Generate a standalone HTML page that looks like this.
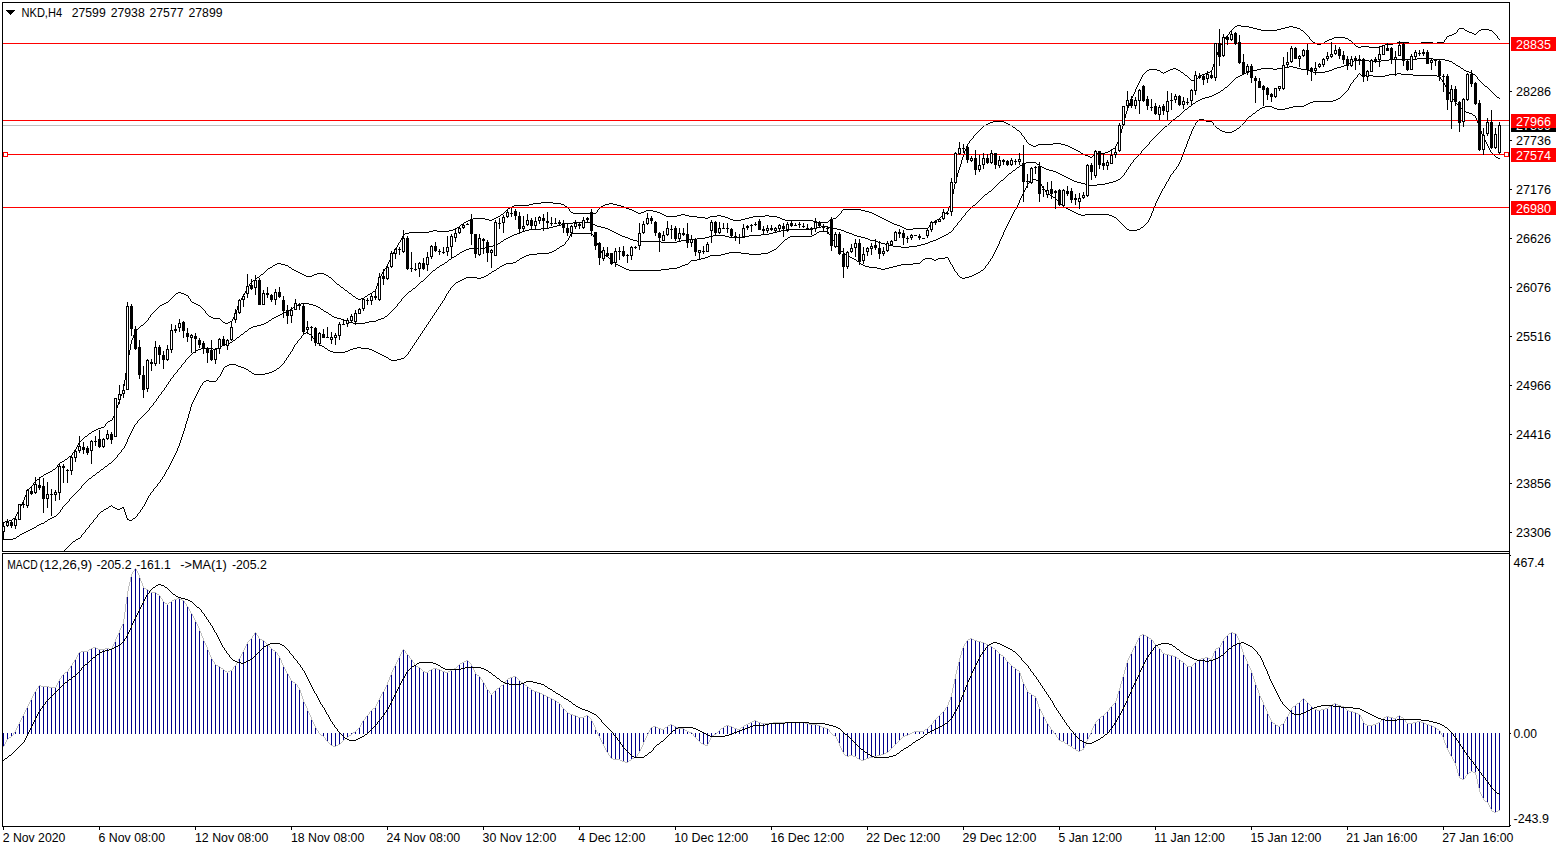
<!DOCTYPE html>
<html lang="en"><head><meta charset="utf-8"><title>NKD,H4</title>
<style>html,body{margin:0;padding:0;background:#fff;}body{width:1566px;height:850px;overflow:hidden;}svg{display:block;}text{font-family:"Liberation Sans", sans-serif;font-size:12.6px;}</style>
</head><body>
<svg width="1566" height="850" viewBox="0 0 1566 850">
<rect x="0" y="0" width="1566" height="850" fill="#fff"/>
<g shape-rendering="crispEdges">
<path d="M345 290.5h2M573 213.5h23M638 213.5h3M660 213.5h2M872 213.5h2M944 213.5h2M464 222.5h2M817 222.5h11M890 222.5h2M932 222.5h2M1031 145.5h2M1036 145.5h2M1065 145.5h3M533 203.5h8M553 203.5h8M609 203.5h4M429 231.5h4M437 231.5h12M1090 157.5h2M1235 26.5h2M1241 26.5h8M1289 26.5h4M1081 153.5h2M1095 153.5h10M1317 44.5h4M1385 44.5h8M166 302.5h2M192 302.5h2M1202 74.5h3M1149 69.5h8M1170 69.5h3M1176 69.5h2M468 220.5h2M489 220.5h3M733 220.5h8M785 220.5h28M829 220.5h2M886 220.5h2M529 204.5h4M561 204.5h3M605 204.5h4M613 204.5h4M634 211.5h2M644 211.5h2M653 211.5h4M865 211.5h4M1074 149.5h2M498 216.5h2M666 216.5h11M689 216.5h8M710 216.5h7M721 216.5h4M753 216.5h12M769 216.5h8M878 216.5h2M1257 29.5h4M1277 29.5h4M1481 29.5h8M257 277.5h2M329 277.5h2M571 212.5h2M636 212.5h2M641 212.5h3M657 212.5h3M869 212.5h3M946 212.5h2M162 304.5h2M196 304.5h2M1356 46.5h2M1361 46.5h8M1380 46.5h2M1332 38.5h2M1345 38.5h3M1205 73.5h3M470 219.5h3M485 219.5h4M492 219.5h2M730 219.5h3M741 219.5h4M782 219.5h3M831 219.5h2M884 219.5h2M937 219.5h2M3 522.5h2M1078 151.5h2M1108 151.5h2M629 209.5h3M843 209.5h18M541 202.5h12M405 233.5h4M664 215.5h2M677 215.5h4M685 215.5h4M717 215.5h4M765 215.5h4M876 215.5h2M101 427.5h3M1147 70.5h2M1157 70.5h3M1168 70.5h2M1178 70.5h2M993 121.5h11M514 205.5h15M603 205.5h2M617 205.5h4M261 274.5h2M302 274.5h2M314 274.5h3M324 274.5h2M294 270.5h2M358 299.5h3M186 295.5h2M990 122.5h3M1004 122.5h2M1053 143.5h8M1315 43.5h2M1321 43.5h3M1393 43.5h4M1409 43.5h12M1433 43.5h4M986 124.5h2M1008 124.5h2M904 228.5h2M913 228.5h15M41 476.5h2M1161 72.5h2M1164 72.5h2M1181 72.5h2M1208 72.5h2M108 421.5h2M473 218.5h12M494 218.5h2M705 218.5h3M728 218.5h2M745 218.5h4M780 218.5h2M833 218.5h3M882 218.5h2M1358 47.5h3M1369 47.5h11M433 230.5h4M449 230.5h4M1334 37.5h11M1249 27.5h4M1285 27.5h4M1293 27.5h4M1325 41.5h2M96 429.5h2M184 294.5h2M368 294.5h2M92 431.5h2M1076 150.5h2M1110 150.5h2M466 221.5h2M813 221.5h4M888 221.5h2M934 221.5h2M1452 34.5h2M1474 34.5h2M496 217.5h2M697 217.5h8M708 217.5h2M725 217.5h3M749 217.5h4M777 217.5h3M880 217.5h2M213 318.5h7M512 206.5h2M565 206.5h2M601 206.5h2M621 206.5h3M353 296.5h2M365 296.5h2M275 264.5h2M281 264.5h4M178 292.5h3M1261 30.5h16M1301 30.5h2M1465 30.5h2M1479 30.5h2M1489 30.5h3M1467 31.5h2M1085 155.5h3M1237 25.5h4M1253 28.5h4M1281 28.5h4M1297 28.5h3M1459 28.5h5M1088 156.5h2M1105 152.5h3M1072 148.5h2M1113 148.5h2M461 224.5h2M894 224.5h3M225 323.5h3M1313 42.5h2M1397 42.5h12M1421 42.5h12M1437 42.5h7M409 232.5h20M223 322.5h2M228 322.5h2M1382 45.5h3M1329 39.5h3M897 225.5h3M356 298.5h2M361 298.5h3M300 273.5h2M317 273.5h7M306 276.5h6M9 520.5h3M292 269.5h2M457 227.5h2M902 227.5h2M341 287.5h2M632 210.5h2M646 210.5h7M861 210.5h4M164 303.5h2M194 303.5h2M1029 144.5h2M1038 144.5h15M1061 144.5h4M85 436.5h2M253 280.5h2M65 459.5h2M337 284.5h2M984 125.5h2M1010 125.5h2M1070 147.5h2M501 214.5h2M662 214.5h2M681 214.5h4M874 214.5h2M1469 32.5h3M53 469.5h2M298 272.5h2M900 226.5h2M1454 33.5h2M1472 33.5h2M373 291.5h2M60 462.5h2M1033 146.5h3M1068 146.5h2M230 321.5h2M273 265.5h2M285 265.5h3M176 293.5h2M181 293.5h3M349 293.5h2M370 293.5h2M508 208.5h2M626 208.5h3M403 234.5h2M1083 154.5h2M988 123.5h2M1006 123.5h2M1449 35.5h3M453 229.5h3M906 229.5h7M110 420.5h2M62 461.5h2M296 271.5h2M209 316.5h2M1017 130.5h2M50 471.5h2M268 268.5h2M1327 40.5h2M1349 40.5h2M141 325.5h2M160 305.5h2M198 305.5h2M211 317.5h2M1013 127.5h2M98 428.5h3M304 275.5h2M312 275.5h2M326 275.5h2M270 267.5h2M289 267.5h2M1185 75.5h2M1200 75.5h2M510 207.5h2M624 207.5h2M89 433.5h2M69 456.5h2M5 521.5h4M1166 71.5h2M1210 71.5h2M48 472.5h2M1173 68.5h3M277 263.5h4M1447 36.5h2M1191 80.5h5M46 473.5h2M892 223.5h2M13 518.5h2M37 479.5h2M94 430.5h2M44 474.5h2M246.5 289v2M36.5 480v1M392.5 254v2M952.5 194v5M130.5 344v6M384.5 269v2M24.5 497v3M1125.5 114v4M1214.5 61v3M1094.5 154v1M969.5 141v2M31.5 486v1M400.5 240v2M947.5 211v1M158.5 307v1M936.5 220v1M841.5 211v2M23.5 500v2M242.5 297v1M125.5 373v7M1025.5 139v1M265.5 271v1M170.5 299v1M135.5 331v2M1124.5 118v3M940.5 217v1M380.5 276v2M1026.5 140v2M1121.5 129v4M1133.5 94v2M333.5 280v1M1222.5 41v2M126.5 367v6M956.5 177v3M396.5 247v2M117.5 405v3M1309.5 37v2M334.5 281v1M238.5 303v3M387.5 264v2M1116.5 144v2M379.5 278v2M1354.5 44v1M113.5 416v2M1446.5 37v2M1183.5 73v1M1136.5 87v2M1120.5 133v4M234.5 315v2M1218.5 49v3M203.5 309v1M964.5 151v3M1355.5 45v1M1233.5 28v1M951.5 199v4M1495.5 34v1M18.5 510v2M237.5 306v4M1160.5 71v1M120.5 396v3M1213.5 64v3M378.5 280v3M1225.5 37v2M344.5 289v1M1217.5 52v3M78.5 443v2M963.5 154v3M22.5 502v2M391.5 256v2M383.5 271v1M150.5 315v2M153.5 312v1M968.5 143v1M828.5 221v1M1212.5 67v3M955.5 180v4M249.5 284v2M1476.5 33v1M74.5 450v2M375.5 289v2M241.5 298v2M979.5 130v1M145.5 322v1M367.5 295v1M34.5 482v1M57.5 465v2M112.5 418v2M340.5 286v1M596.5 212v1M138.5 328v1M403.5 235v1M233.5 317v2M81.5 440v1M245.5 291v2M954.5 184v5M456.5 228v1M291.5 268v1M1028.5 143v1M105.5 424v2M1145.5 72v1M1456.5 32v1M386.5 266v2M1140.5 79v2M1499.5 39v1M188.5 296v2M971.5 139v1M399.5 242v1M1312.5 41v1M172.5 297v1M256.5 278v1M128.5 355v6M1197.5 78v1M942.5 215v1M1127.5 108v3M840.5 213v1M129.5 350v5M1139.5 81v2M1221.5 43v2M260.5 275v1M30.5 487v1M206.5 313v1M88.5 434v1M959.5 167v3M1498.5 38v1M390.5 258v2M1132.5 96v2M1027.5 142v1M983.5 126v1M1304.5 32v1M124.5 380v6M950.5 203v3M974.5 135v1M1123.5 121v4M1135.5 89v3M26.5 492v3M17.5 512v2M1189.5 78v1M1115.5 146v2M33.5 483v2M1143.5 74v1M56.5 467v1M220.5 319v1M336.5 283v1M377.5 283v3M123.5 386v5M191.5 301v1M267.5 269v1M157.5 308v1M1122.5 125v4M221.5 320v1M232.5 319v2M127.5 361v6M77.5 445v2M244.5 293v2M205.5 311v2M264.5 272v1M382.5 272v2M953.5 189v5M21.5 504v2M1497.5 36v2M967.5 144v2M133.5 335v3M1311.5 40v1M335.5 282v1M958.5 170v3M190.5 299v2M1131.5 98v3M500.5 215v1M115.5 411v3M1080.5 152v1M40.5 477v1M140.5 326v1M966.5 146v3M248.5 286v1M504.5 212v1M978.5 131v1M144.5 323v1M957.5 173v4M1300.5 29v1M1184.5 74v1M1303.5 31v1M949.5 206v2M1119.5 137v3M16.5 514v2M28.5 489v1M929.5 225v2M376.5 286v3M152.5 313v1M1478.5 31v1M981.5 128v1M1138.5 83v2M119.5 399v3M189.5 298v1M67.5 458v1M240.5 300v1M569.5 209v2M243.5 295v2M59.5 463v1M122.5 391v3M71.5 455v1M962.5 157v3M204.5 310v1M83.5 438v1M118.5 402v3M87.5 435v1M131.5 340v4M155.5 310v1M961.5 160v4M1227.5 35v1M973.5 136v2M1130.5 101v2M1142.5 75v2M970.5 140v1M1199.5 76v1M941.5 216v1M1180.5 71v1M251.5 282v1M1129.5 103v3M598.5 209v1M20.5 506v2M222.5 321v1M1492.5 31v1M928.5 227v1M1230.5 31v1M395.5 249v1M976.5 133v1M91.5 432v1M1493.5 32v1M1019.5 131v1M114.5 414v2M1137.5 85v2M1458.5 29v1M174.5 295v1M364.5 297v1M506.5 210v1M208.5 315v1M1126.5 111v3M32.5 485v1M960.5 164v3M35.5 481v1M948.5 208v3M159.5 306v1M55.5 468v1M842.5 210v1M266.5 270v1M15.5 516v2M27.5 490v2M134.5 333v2M568.5 208v1M837.5 216v1M207.5 314v1M1141.5 77v2M288.5 266v1M1305.5 33v1M460.5 225v1M352.5 295v1M965.5 149v2M1306.5 34v1M1190.5 79v1M1234.5 27v1M355.5 297v1M980.5 129v1M39.5 478v1M19.5 508v2M567.5 207v1M503.5 213v1M1093.5 155v1M146.5 321v1M121.5 394v2M1351.5 41v1M402.5 236v2M43.5 475v1M1324.5 42v1M1229.5 32v2M200.5 306v1M169.5 300v1M1015.5 128v1M939.5 218v1M931.5 223v1M116.5 408v3M154.5 311v1M1021.5 133v2M398.5 243v2M1022.5 135v1M149.5 317v1M58.5 464v1M236.5 310v3M597.5 210v2M394.5 250v2M73.5 452v1M1445.5 39v1M1112.5 149v1M1457.5 30v2M570.5 211v1M137.5 329v1M972.5 138v1M80.5 441v1M975.5 134v1M104.5 426v1M351.5 294v1M1224.5 39v1M385.5 268v1M1020.5 132v1M1464.5 29v1M173.5 296v1M272.5 266v1M943.5 214v1M1128.5 106v2M600.5 207v1M76.5 447v2M1163.5 73v1M1196.5 79v1M1220.5 45v2M1216.5 55v3M381.5 274v2M1232.5 29v1M836.5 217v1M132.5 338v2M107.5 422v1M64.5 460v1M25.5 495v2M68.5 457v1M1144.5 73v1M1024.5 137v2M1494.5 33v1M459.5 226v1M331.5 278v1M1444.5 40v2M332.5 279v1M1092.5 156v1M839.5 214v1M389.5 260v2M1308.5 36v1M156.5 309v1M255.5 279v1M1118.5 140v2M168.5 301v1M347.5 291v1M1016.5 129v1M930.5 224v1M148.5 318v2M397.5 245v2M202.5 308v1M235.5 313v2M982.5 127v1M72.5 453v2M1215.5 58v3M239.5 301v2M505.5 211v1M401.5 238v2M463.5 223v1M1219.5 47v2M393.5 252v2M171.5 298v1M139.5 327v1M1307.5 35v1M343.5 288v1M259.5 276v1M29.5 488v1M1352.5 42v1M263.5 273v1M201.5 307v1M1353.5 43v1M252.5 281v1M1134.5 92v2M372.5 292v1M328.5 276v1M247.5 287v2M151.5 314v1M339.5 285v1M1477.5 32v1M84.5 437v1M388.5 262v2M599.5 208v1M1117.5 142v2M1023.5 136v1M143.5 324v1M1012.5 126v1M1228.5 34v1M1231.5 30v1M82.5 439v1M136.5 330v1M1188.5 77v1M1146.5 71v1M175.5 294v1M106.5 423v1M1223.5 40v1M1226.5 36v1M52.5 470v1M12.5 519v1M1198.5 77v1M564.5 205v1M1187.5 76v1M1348.5 39v1M250.5 283v1M838.5 215v1M1496.5 35v1M977.5 132v1M1211.5 70v1M75.5 449v1M1310.5 39v1M507.5 209v1M348.5 292v1M79.5 442v1M147.5 320v1" fill="none" stroke="#000" stroke-width="1"/>
<path d="M346 321.5h3M369 321.5h7M541 228.5h8M605 228.5h3M813 228.5h4M830 228.5h7M525 230.5h4M610 230.5h2M781 230.5h8M841 230.5h3M201 348.5h12M216 348.5h2M989 191.5h2M3 539.5h10M1389 59.5h28M1433 59.5h12M501 241.5h2M637 241.5h24M677 241.5h4M876 241.5h2M930 241.5h3M1024 163.5h2M1246 72.5h3M1313 72.5h12M1469 72.5h3M517 233.5h3M616 233.5h2M769 233.5h4M849 233.5h3M1212 95.5h2M510 236.5h2M622 236.5h3M709 236.5h4M725 236.5h4M745 236.5h4M857 236.5h4M942 236.5h2M514 234.5h3M618 234.5h2M761 234.5h8M852 234.5h2M946 234.5h2M633 240.5h4M681 240.5h8M870 240.5h6M933 240.5h3M1089 185.5h8M274 317.5h2M334 317.5h3M661 242.5h16M878 242.5h3M928 242.5h2M508 237.5h2M625 237.5h3M705 237.5h4M729 237.5h16M861 237.5h4M940 237.5h2M280 314.5h2M329 314.5h2M1085 184.5h4M1097 184.5h8M296 305.5h2M313 305.5h3M1177 116.5h2M1081 183.5h4M1105 183.5h4M1200 99.5h2M1253 70.5h4M1308 70.5h2M1329 70.5h3M1464 70.5h2M549 227.5h4M601 227.5h4M817 227.5h4M828 227.5h2M496 244.5h2M885 244.5h4M921 244.5h4M1205 97.5h4M1497 97.5h2M266 322.5h2M349 322.5h4M365 322.5h4M1077 182.5h4M1109 182.5h4M520 232.5h2M614 232.5h2M773 232.5h4M846 232.5h3M949 232.5h2M506 238.5h2M628 238.5h2M697 238.5h8M865 238.5h3M938 238.5h2M1261 68.5h12M1277 68.5h8M1297 68.5h4M1334 68.5h3M1461 68.5h2M1185 109.5h2M529 229.5h12M608 229.5h2M789 229.5h24M837 229.5h4M512 235.5h2M620 235.5h2M713 235.5h12M749 235.5h12M854 235.5h3M944 235.5h2M48 519.5h2M469 248.5h16M282 313.5h2M522 231.5h3M612 231.5h2M777 231.5h4M844 231.5h2M493 245.5h3M889 245.5h4M917 245.5h4M557 225.5h4M595 225.5h2M553 226.5h4M597 226.5h4M821 226.5h7M565 223.5h8M1053 171.5h3M1218 92.5h2M561 224.5h4M593 224.5h2M1026 162.5h10M1249 71.5h4M1310 71.5h3M1325 71.5h4M1466 71.5h3M1013 170.5h2M1049 170.5h4M1344 65.5h2M1456 65.5h2M253 326.5h4M573 222.5h19M230 342.5h2M249 328.5h2M225 344.5h3M1074 181.5h3M1113 181.5h3M433 270.5h2M101 469.5h2M1068 178.5h2M457 254.5h2M278 315.5h2M276 316.5h2M332 316.5h2M385 316.5h2M1209 96.5h3M1056 172.5h2M504 239.5h2M630 239.5h3M689 239.5h8M868 239.5h2M936 239.5h2M1285 67.5h4M1293 67.5h4M1337 67.5h4M1017 167.5h2M1042 167.5h2M1289 66.5h4M1341 66.5h3M1458 66.5h2M498 243.5h2M881 243.5h4M925 243.5h3M264 323.5h2M353 323.5h12M218 347.5h2M34 527.5h2M286 311.5h2M324 311.5h2M290 309.5h2M321 309.5h2M269 320.5h2M344 320.5h2M376 320.5h2M298 304.5h3M309 304.5h4M17 536.5h2M440 265.5h2M1352 61.5h2M1369 61.5h12M1449 61.5h3M464 250.5h2M1244 73.5h2M409 291.5h2M241 334.5h2M1354 60.5h15M1381 60.5h8M1445 60.5h4M1066 177.5h2M198 349.5h3M213 349.5h3M316 306.5h2M1417 58.5h16M45 521.5h2M293 307.5h2M318 307.5h2M1240 75.5h2M301 303.5h8M1009 173.5h2M1058 173.5h2M489 246.5h4M893 246.5h8M909 246.5h8M261 324.5h3M1346 64.5h2M973 205.5h2M1060 174.5h2M341 319.5h3M378 319.5h3M454 256.5h2M1020 165.5h2M20 534.5h2M1257 69.5h4M1273 69.5h4M1301 69.5h7M1332 69.5h2M284 312.5h2M326 312.5h2M109 463.5h2M39 524.5h2M1225 87.5h2M1001 180.5h2M1072 180.5h2M1116 180.5h2M272 318.5h2M337 318.5h4M381 318.5h3M233 340.5h2M1198 100.5h2M1070 179.5h2M1118 179.5h2M93 475.5h2M41 523.5h3M1173 119.5h2M1242 74.5h2M1473 74.5h2M24 532.5h2M222 345.5h3M251 327.5h2M1022 164.5h2M1037 164.5h2M1189 106.5h2M1236 77.5h2M193 352.5h2M288 310.5h2M1040 166.5h2M54 516.5h2M437 267.5h2M1062 175.5h2M1064 176.5h2M1221 90.5h2M1348 63.5h2M1453 63.5h2M485 247.5h4M901 247.5h8M26 531.5h2M257 325.5h4M1485 86.5h2M32 528.5h2M105 466.5h2M462 251.5h2M1196 101.5h2M196 350.5h2M460 252.5h2M1214 94.5h2M22 533.5h2M89 478.5h2M445 262.5h2M1238 76.5h2M413 288.5h2M97 472.5h2M50 518.5h2M421 281.5h2M52 517.5h2M1350 62.5h2M1046 169.5h3M1165 126.5h2M220 346.5h2M442 264.5h2M1216 93.5h2M452 257.5h2M1044 168.5h2M13 538.5h3M1193 103.5h2M985 194.5h2M37 525.5h2M449 259.5h2M1202 98.5h3M466 249.5h3M245 331.5h2M28 530.5h2M30 529.5h2M228 343.5h2M237 337.5h2M191.5 354v1M123.5 448v1M1006.5 176v1M428.5 275v1M58.5 513v1M61.5 509v1M136.5 423v1M81.5 486v2M139.5 419v1M128.5 437v2M1127.5 169v1M56.5 515v1M959.5 221v1M1036.5 163v1M1143.5 149v1M1220.5 91v1M970.5 208v1M112.5 461v1M236.5 338v1M69.5 499v2M127.5 439v3M951.5 231v1M1224.5 88v1M954.5 227v1M1472.5 73v1M163.5 390v1M1158.5 133v1M148.5 410v1M151.5 406v1M175.5 373v1M195.5 351v1M64.5 505v1M447.5 261v1M1490.5 90v1M170.5 379v2M459.5 253v1M1460.5 67v1M1479.5 80v1M1491.5 91v1M962.5 217v1M997.5 184v1M425.5 278v1M397.5 304v2M183.5 363v1M268.5 321v1M44.5 522v1M1138.5 155v1M166.5 385v2M240.5 335v1M412.5 289v1M76.5 492v1M178.5 369v1M1228.5 85v1M244.5 332v1M416.5 286v1M328.5 313v1M405.5 295v1M1123.5 175v1M248.5 329v1M95.5 474v1M1135.5 158v1M84.5 483v1M451.5 258v1M1478.5 79v1M400.5 301v1M99.5 471v1M146.5 412v1M186.5 359v1M131.5 431v2M432.5 271v1M1130.5 164v2M68.5 501v1M143.5 415v1M444.5 263v1M1452.5 62v1M1008.5 174v1M436.5 268v1M60.5 510v2M988.5 192v1M1235.5 78v1M1126.5 170v2M154.5 402v1M992.5 189v1M119.5 453v1M981.5 198v1M320.5 308v1M1169.5 123v1M114.5 459v1M103.5 468v1M965.5 213v2M1477.5 77v2M126.5 442v2M953.5 228v2M107.5 465v1M592.5 223v1M177.5 370v2M1153.5 138v1M1012.5 171v1M1150.5 141v1M36.5 526v1M190.5 355v1M392.5 310v1M122.5 449v1M169.5 381v1M430.5 273v1M999.5 182v1M427.5 276v1M1191.5 105v1M1145.5 147v1M1180.5 114v1M185.5 360v2M1129.5 166v1M420.5 282v1M961.5 218v2M972.5 206v1M71.5 497v1M1230.5 83v1M1492.5 92v1M956.5 225v1M976.5 203v1M235.5 339v1M407.5 293v1M1493.5 93v1M1160.5 131v1M153.5 403v2M1223.5 89v1M162.5 391v1M1137.5 156v1M165.5 387v1M66.5 503v1M239.5 336v1M86.5 481v1M174.5 374v1M125.5 444v2M1195.5 102v1M500.5 242v1M1003.5 179v1M964.5 215v1M63.5 506v1M138.5 420v1M996.5 185v1M117.5 455v2M387.5 315v1M1140.5 153v1M78.5 490v1M156.5 399v2M180.5 367v1M1480.5 81v1M983.5 196v1M168.5 382v2M411.5 290v1M47.5 520v1M1481.5 82v1M987.5 193v1M415.5 287v1M1157.5 134v1M1234.5 79v1M1125.5 172v1M967.5 211v1M132.5 429v2M188.5 357v1M399.5 302v1M1132.5 162v1M402.5 298v1M1155.5 136v1M145.5 413v1M1120.5 178v1M16.5 537v1M394.5 308v1M418.5 284v1M994.5 187v1M1171.5 121v1M121.5 450v2M991.5 190v1M391.5 311v1M1175.5 118v1M1164.5 127v1M116.5 457v1M1179.5 115v1M73.5 495v1M978.5 201v1M295.5 306v1M1162.5 129v1M164.5 388v2M948.5 233v1M971.5 207v1M1152.5 139v1M1229.5 84v1M192.5 353v1M456.5 255v1M124.5 446v2M448.5 260v1M429.5 274v1M1147.5 145v1M1182.5 112v1M62.5 507v2M140.5 418v1M85.5 482v1M1128.5 167v2M57.5 514v1M135.5 424v1M80.5 488v1M1232.5 81v1M1487.5 87v1M955.5 226v1M406.5 294v1M1139.5 154v1M1159.5 132v1M88.5 479v1M152.5 405v1M176.5 372v1M179.5 368v1M111.5 462v1M65.5 504v1M92.5 476v1M1016.5 168v1M1005.5 177v1M159.5 395v1M147.5 411v1M1494.5 94v1M171.5 378v1M998.5 183v1M966.5 212v1M187.5 358v1M389.5 313v1M958.5 222v1M424.5 279v1M1039.5 165v1M1142.5 150v1M77.5 491v1M182.5 364v1M417.5 285v1M1475.5 75v1M969.5 209v1M96.5 473v1M1170.5 122v1M1227.5 86v1M243.5 333v1M401.5 299v2M100.5 470v1M404.5 296v1M1482.5 83v1M1122.5 176v1M1131.5 163v1M115.5 458v1M1134.5 159v1M1463.5 69v1M1154.5 137v1M83.5 484v1M130.5 433v2M396.5 306v1M431.5 272v1M1184.5 110v1M155.5 401v1M158.5 396v2M435.5 269v1M993.5 188v1M1188.5 107v1M393.5 309v1M167.5 384v1M331.5 315v1M1146.5 146v1M1181.5 113v1M75.5 493v1M150.5 407v1M118.5 454v1M980.5 199v1M72.5 496v1M134.5 425v2M957.5 223v2M1141.5 151v2M232.5 341v1M1231.5 82v1M161.5 392v2M173.5 375v2M1149.5 142v2M142.5 416v1M87.5 480v1M1000.5 181v1M1192.5 104v1M271.5 319v1M1489.5 89v1M189.5 356v1M1004.5 178v1M59.5 512v1M137.5 421v2M247.5 330v1M384.5 317v1M1168.5 124v1M181.5 365v2M1496.5 96v1M419.5 283v1M388.5 314v1M977.5 202v1M1455.5 64v1M408.5 292v1M1499.5 98v1M1161.5 130v1M113.5 460v1M423.5 280v1M1488.5 88v1M67.5 502v1M70.5 498v1M952.5 230v1M1007.5 175v1M975.5 204v1M91.5 477v1M149.5 408v2M1133.5 160v2M1011.5 172v1M439.5 266v1M968.5 210v1M129.5 435v2M323.5 310v1M960.5 220v1M963.5 216v1M426.5 277v1M1144.5 148v1M79.5 489v1M82.5 485v1M184.5 362v1M995.5 186v1M1484.5 85v1M395.5 307v1M984.5 195v1M1172.5 120v1M133.5 427v2M1015.5 169v1M1124.5 173v2M403.5 297v1M1136.5 157v1M1156.5 135v1M1121.5 177v1M1233.5 80v1M1019.5 166v1M1495.5 95v1M503.5 240v1M398.5 303v1M144.5 414v1M1183.5 111v1M157.5 398v1M160.5 394v1M1187.5 108v1M1176.5 117v1M172.5 377v1M1148.5 144v1M292.5 308v1M120.5 452v1M982.5 197v1M1476.5 76v1M74.5 494v1M390.5 312v1M979.5 200v1M1163.5 128v1M1483.5 84v1M104.5 467v1M1167.5 125v1M108.5 464v1M19.5 535v1M1151.5 140v1M141.5 417v1" fill="none" stroke="#000" stroke-width="1"/>
<path d="M857 261.5h2M484 276.5h2M969 276.5h3M622 267.5h2M677 267.5h3M869 267.5h8M889 267.5h4M1081 215.5h4M1109 215.5h3M1066 208.5h2M819 231.5h9M513 262.5h3M613 262.5h2M520 258.5h2M701 258.5h4M852 258.5h2M925 258.5h7M938 258.5h7M1064 207.5h2M1225 132.5h7M1253 113.5h2M1469 113.5h3M494 270.5h2M629 270.5h32M981 270.5h2M1363 76.5h2M1373 76.5h12M1437 76.5h3M1313 101.5h20M1260 108.5h2M1274 108.5h3M1285 108.5h4M1078 214.5h3M1085 214.5h24M571 233.5h21M1361 75.5h2M1365 75.5h8M1385 75.5h4M1413 75.5h24M790 236.5h22M1306 104.5h2M127 519.5h2M269 372.5h3M549 252.5h3M729 252.5h12M768 252.5h2M1038 181.5h2M497 268.5h2M624 268.5h2M669 268.5h8M877 268.5h4M885 268.5h4M1068 209.5h2M249 371.5h2M272 371.5h2M1050 195.5h2M380 354.5h2M325 348.5h2M353 348.5h4M361 348.5h8M241 367.5h3M504 264.5h2M616 264.5h2M685 264.5h3M861 264.5h2M901 264.5h12M1265 106.5h7M1293 106.5h11M1277 109.5h8M204 381.5h2M209 381.5h7M1114 217.5h2M227 365.5h2M236 365.5h2M466 277.5h11M481 277.5h3M960 277.5h2M965 277.5h4M1199 119.5h5M697 259.5h4M854 259.5h2M923 259.5h2M932 259.5h2M936 259.5h2M774 249.5h2M554 250.5h2M772 250.5h2M254 374.5h11M974 274.5h2M1333 100.5h3M502 265.5h2M618 265.5h2M682 265.5h3M863 265.5h2M897 265.5h4M350 349.5h3M369 349.5h3M225 366.5h2M238 366.5h3M526 255.5h3M604 255.5h2M710 255.5h11M522 257.5h2M705 257.5h3M850 257.5h2M945 257.5h3M330 351.5h3M345 351.5h3M374 351.5h2M306 332.5h2M560 246.5h2M524 256.5h2M606 256.5h2M708 256.5h2M848 256.5h2M382 355.5h2M304 333.5h2M129 520.5h3M1070 210.5h2M517 260.5h2M691 260.5h6M934 260.5h2M1466 112.5h3M113 507.5h2M122 507.5h2M401 358.5h3M1112 216.5h2M529 254.5h8M721 254.5h4M749 254.5h12M845 254.5h2M626 269.5h3M661 269.5h8M881 269.5h4M557 248.5h2M76 539.5h2M320 345.5h2M333 352.5h12M376 352.5h2M73 541.5h2M537 253.5h12M725 253.5h4M741 253.5h8M761 253.5h7M506 263.5h7M913 263.5h7M1036 180.5h2M552 251.5h2M770 251.5h2M841 251.5h2M274 370.5h2M785 239.5h2M1308 103.5h2M357 347.5h4M1304 105.5h2M1141 227.5h2M486 275.5h2M972 275.5h2M460 280.5h2M1389 74.5h8M1401 74.5h12M1129 230.5h8M562 245.5h2M462 279.5h2M328 350.5h2M348 350.5h2M372 350.5h2M109 506.5h2M206 380.5h3M106 508.5h2M115 508.5h2M120 508.5h2M814 234.5h2M1206 121.5h6M1310 102.5h3M817 232.5h2M1498 158.5h2M1031 179.5h5M252 373.5h2M265 373.5h4M389 359.5h2M397 359.5h4M1397 73.5h4M1222 131.5h3M1232 131.5h2M812 235.5h2M1217 128.5h2M1237 128.5h2M788 237.5h2M322 346.5h2M133 518.5h2M309 334.5h2M378 353.5h2M1257 110.5h2M384 356.5h2M1464 111.5h2M458 281.5h2M489 273.5h2M976 273.5h2M500 266.5h2M620 266.5h2M680 266.5h2M865 266.5h4M893 266.5h4M246 369.5h2M391 360.5h6M1072 211.5h2M978 272.5h2M464 278.5h2M477 278.5h4M962 278.5h3M492 271.5h2M1262 107.5h3M1272 107.5h2M1289 107.5h4M1127 229.5h2M1137 229.5h3M1076 213.5h2M1074 212.5h2M1204 120.5h2M1496 157.5h2M244 368.5h2M277 368.5h2M386 357.5h2M317 343.5h2M1053 197.5h2M229 364.5h7M456 282.5h2M104 509.5h2M117 509.5h3M1473 115.5h2M1220 130.5h2M1234 130.5h2M1249 116.5h2M1338 98.5h2M101 511.5h2M1048 194.5h2M78 538.5h2M1336 99.5h2M153.5 489v2M949.5 260v2M957.5 273v2M88.5 527v1M420.5 334v2M221.5 372v2M165.5 472v2M615.5 263v1M1185.5 147v2M189.5 411v3M1239.5 127v1M1197.5 121v1M950.5 262v2M958.5 275v1M1016.5 207v2M125.5 512v3M1040.5 182v2M1346.5 91v1M995.5 250v2M289.5 354v1M83.5 533v1M1358.5 74v1M1181.5 157v3M1029.5 181v2M427.5 324v1M169.5 465v2M779.5 245v1M1160.5 193v2M181.5 437v3M161.5 479v1M1027.5 184v2M96.5 517v1M832.5 238v2M99.5 513v1M1184.5 149v3M1000.5 239v2M185.5 424v4M980.5 271v1M197.5 392v2M1486.5 142v2M1012.5 214v2M447.5 293v1M132.5 519v1M1489.5 148v2M327.5 349v1M1153.5 208v3M177.5 448v3M991.5 258v1M1152.5 211v2M411.5 348v1M298.5 340v1M836.5 244v2M1481.5 131v3M91.5 523v1M94.5 519v1M168.5 467v2M145.5 502v2M1212.5 122v1M1023.5 192v2M1193.5 127v2M953.5 267v2M999.5 241v3M843.5 252v1M443.5 300v1M1043.5 188v1M282.5 364v1M1478.5 123v3M173.5 457v2M455.5 283v1M593.5 235v2M201.5 385v1M844.5 253v1M596.5 240v3M423.5 330v1M1173.5 171v2M1488.5 146v2M565.5 242v2M1349.5 86v2M164.5 474v2M1007.5 224v2M301.5 336v2M312.5 336v2M450.5 288v2M430.5 319v2M1492.5 153v1M103.5 510v1M984.5 268v1M516.5 261v1M987.5 264v1M136.5 516v1M407.5 354v1M313.5 338v1M1485.5 140v2M1180.5 160v2M172.5 459v2M1353.5 80v2M251.5 372v1M611.5 260v1M220.5 374v2M414.5 343v2M67.5 547v1M1459.5 106v1M1140.5 228v1M319.5 344v1M952.5 265v2M285.5 360v1M180.5 440v3M1167.5 181v1M1144.5 225v1M1121.5 223v1M1176.5 167v2M184.5 428v3M196.5 394v2M956.5 272v1M1042.5 186v2M1011.5 216v2M160.5 480v2M1192.5 129v2M1246.5 119v1M1046.5 192v1M188.5 414v4M1151.5 213v3M179.5 443v3M152.5 491v1M410.5 349v2M835.5 243v1M224.5 367v1M1163.5 188v1M838.5 247v2M144.5 504v2M192.5 402v2M1030.5 180v1M610.5 259v1M1241.5 125v1M1061.5 204v1M839.5 249v1M1484.5 138v2M599.5 248v2M1191.5 131v3M439.5 306v1M442.5 301v2M1458.5 105v1M1341.5 96v1M85.5 530v2M600.5 250v1M1159.5 195v2M496.5 269v1M488.5 274v1M1045.5 190v2M1026.5 186v2M994.5 252v2M1196.5 122v1M1357.5 75v2M288.5 355v2M1183.5 152v3M1006.5 226v2M191.5 404v3M446.5 294v2M426.5 325v2M1491.5 152v1M82.5 534v1M816.5 233v1M124.5 509v3M1019.5 200v3M1060.5 203v1M922.5 260v1M280.5 366v1M1179.5 162v2M1352.5 82v1M93.5 520v2M183.5 431v3M292.5 349v2M1487.5 144v2M1022.5 194v2M990.5 259v2M433.5 315v1M315.5 341v1M1440.5 77v2M200.5 386v2M1015.5 209v1M1348.5 88v2M417.5 339v1M1214.5 125v1M127.5 518v1M1001.5 237v2M1041.5 184v2M781.5 243v1M1170.5 175v2M948.5 258v2M778.5 246v1M1162.5 189v2M959.5 276v1M1490.5 150v2M146.5 500v2M308.5 333v1M300.5 338v1M155.5 487v1M449.5 290v1M1450.5 94v2M69.5 545v1M158.5 483v1M568.5 238v2M135.5 517v1M1166.5 182v2M1454.5 100v2M1146.5 223v1M314.5 339v2M598.5 245v3M1182.5 155v2M998.5 244v2M195.5 396v2M1158.5 197v2M295.5 344v1M1010.5 218v2M1259.5 109v1M1447.5 89v1M284.5 361v2M1025.5 188v2M142.5 507v2M187.5 418v3M1116.5 218v1M445.5 296v2M203.5 382v1M1150.5 216v2M1479.5 126v3M178.5 446v2M1018.5 203v2M223.5 368v2M1187.5 141v3M182.5 434v3M1472.5 114v1M291.5 351v1M1044.5 189v1M1021.5 196v2M303.5 334v1M429.5 321v1M171.5 461v2M452.5 286v1M1476.5 118v3M1343.5 94v1M1056.5 199v1M1446.5 87v2M199.5 388v2M111.5 505v1M1014.5 210v2M689.5 262v1M219.5 376v1M776.5 248v1M993.5 254v2M112.5 506v1M190.5 407v4M413.5 345v1M1442.5 80v2M1005.5 228v2M416.5 340v2M1195.5 123v2M436.5 310v2M217.5 378v2M1483.5 136v2M167.5 469v1M1020.5 198v2M1443.5 82v1M601.5 251v2M81.5 535v2M1063.5 206v1M1213.5 123v2M126.5 515v3M602.5 253v1M64.5 550v1M1248.5 117v1M1055.5 198v1M432.5 316v2M186.5 421v3M564.5 244v1M1461.5 108v1M1122.5 224v1M556.5 249v1M1243.5 123v1M279.5 367v1M1123.5 225v1M248.5 370v1M194.5 398v2M1190.5 134v2M997.5 246v2M149.5 495v1M324.5 347v1M1009.5 220v2M1493.5 154v1M138.5 513v1M1236.5 129v1M1062.5 205v1M1149.5 218v2M1449.5 92v2M783.5 241v1M612.5 261v1M1186.5 144v3M1198.5 120v1M1482.5 134v2M1347.5 90v1M404.5 357v1M1460.5 107v1M840.5 250v1M287.5 357v1M1189.5 136v3M1169.5 177v2M425.5 327v1M448.5 291v2M157.5 484v2M491.5 272v1M1178.5 164v2M567.5 240v1M428.5 322v2M1157.5 199v2M1351.5 83v1M198.5 390v2M1354.5 79v1M294.5 345v2M1219.5 129v1M1047.5 193v1M1024.5 190v2M992.5 256v2M412.5 346v2M141.5 509v1M435.5 312v1M1004.5 230v2M1165.5 184v2M68.5 546v1M444.5 298v2M1452.5 97v2M202.5 383v2M1017.5 205v2M1445.5 85v2M1453.5 99v1M787.5 238v1M1475.5 116v2M290.5 352v2M388.5 358v1M830.5 235v2M84.5 532v1M419.5 336v1M87.5 528v1M780.5 244v1M1161.5 191v2M1216.5 127v1M597.5 243v2M71.5 543v1M1028.5 183v1M1008.5 222v2M137.5 514v2M570.5 234v2M1477.5 121v2M75.5 540v1M95.5 518v1M1148.5 220v2M1342.5 95v1M1145.5 224v1M1448.5 90v2M316.5 342v1M1451.5 96v1M90.5 524v1M1188.5 139v2M1441.5 79v1M828.5 232v2M1003.5 232v3M1444.5 83v2M1156.5 201v2M829.5 234v1M281.5 365v1M1350.5 84v2M454.5 284v1M1215.5 126v1M996.5 248v2M193.5 400v2M1117.5 219v1M293.5 347v2M148.5 496v2M603.5 254v1M1172.5 173v1M302.5 335v1M1345.5 92v1M431.5 318v1M140.5 510v2M1118.5 220v1M176.5 451v2M98.5 514v1M297.5 341v2M1155.5 203v3M438.5 307v2M983.5 269v1M415.5 342v1M216.5 380v1M1168.5 179v2M1125.5 227v1M1455.5 102v1M66.5 548v1M422.5 331v2M1143.5 226v1M1175.5 169v1M156.5 486v1M1164.5 186v2M1245.5 120v2M566.5 241v1M1242.5 124v1M451.5 287v1M163.5 476v1M406.5 355v1M151.5 492v1M89.5 525v2M1057.5 200v1M519.5 259v1M782.5 242v1M1124.5 226v1M1494.5 155v1M1340.5 97v1M147.5 498v2M1495.5 156v1M569.5 236v2M175.5 453v2M97.5 515v2M499.5 267v1M1252.5 114v1M434.5 313v2M1480.5 129v2M70.5 544v1M921.5 261v1M1462.5 109v1M143.5 506v1M986.5 265v1M989.5 261v1M409.5 351v1M418.5 337v2M441.5 303v1M592.5 234v1M1002.5 235v2M86.5 529v1M222.5 370v2M1356.5 77v1M1359.5 73v1M170.5 463v2M1154.5 206v2M1360.5 74v1M831.5 237v1M690.5 261v1M1052.5 196v1M159.5 482v1M108.5 507v1M1256.5 111v1M1013.5 212v2M139.5 512v1M1147.5 222v1M296.5 343v1M154.5 488v1M92.5 522v1M166.5 470v2M595.5 238v2M1120.5 222v1M1240.5 126v1M421.5 333v1M453.5 285v1M162.5 477v2M834.5 241v2M100.5 512v1M1171.5 174v1M1344.5 93v1M859.5 262v1M985.5 266v2M299.5 339v1M777.5 247v1M954.5 269v2M860.5 263v1M437.5 309v1M440.5 304v2M955.5 271v1M1194.5 125v2M218.5 377v1M283.5 363v1M594.5 237v1M286.5 358v2M1058.5 201v1M174.5 455v2M65.5 549v1M424.5 328v2M608.5 257v1M123.5 508v1M1059.5 202v1M80.5 537v1M276.5 369v1M609.5 258v1M1456.5 103v1M1244.5 122v1M311.5 335v1M833.5 240v1M988.5 262v2M408.5 352v2M150.5 493v2M1457.5 104v1M1174.5 170v1M784.5 240v1M1119.5 221v1M688.5 263v1M1463.5 110v1M951.5 264v1M405.5 356v1M72.5 542v1M1126.5 228v1M1247.5 118v1M847.5 255v1M1355.5 78v1M856.5 260v1M1177.5 166v1M1251.5 115v1M837.5 246v1M920.5 262v1M1255.5 112v1M559.5 247v1" fill="none" stroke="#000" stroke-width="1"/>
<rect x="3" y="43" width="1506" height="1" fill="#ff0000"/>
<rect x="3" y="120" width="1506" height="1" fill="#ff0000"/>
<rect x="3" y="154" width="1506" height="1" fill="#ff0000"/>
<rect x="3" y="207" width="1506" height="1" fill="#ff0000"/>
<rect x="3" y="125" width="1506" height="1" fill="#c0c0c0"/>
<rect x="3" y="523" width="1" height="16" fill="#000"/><rect x="2" y="526" width="3" height="6" fill="#000"/><rect x="3" y="527" width="1" height="4" fill="#fff"/><rect x="7" y="519" width="1" height="8" fill="#000"/><rect x="6" y="522" width="3" height="4" fill="#000"/><rect x="7" y="523" width="1" height="2" fill="#fff"/><rect x="11" y="520" width="1" height="8" fill="#000"/><rect x="10" y="522" width="3" height="4" fill="#000"/><rect x="15" y="518" width="1" height="11" fill="#000"/><rect x="14" y="519" width="3" height="7" fill="#000"/><rect x="15" y="520" width="1" height="5" fill="#fff"/><rect x="19" y="504" width="1" height="16" fill="#000"/><rect x="18" y="504" width="3" height="16" fill="#000"/><rect x="19" y="505" width="1" height="14" fill="#fff"/><rect x="23" y="502" width="1" height="6" fill="#000"/><rect x="22" y="504" width="3" height="1" fill="#000"/><rect x="27" y="489" width="1" height="19" fill="#000"/><rect x="26" y="490" width="3" height="16" fill="#000"/><rect x="27" y="491" width="1" height="14" fill="#fff"/><rect x="31" y="486" width="1" height="9" fill="#000"/><rect x="30" y="491" width="3" height="3" fill="#000"/><rect x="35" y="477" width="1" height="17" fill="#000"/><rect x="34" y="484" width="3" height="9" fill="#000"/><rect x="35" y="485" width="1" height="7" fill="#fff"/><rect x="39" y="477" width="1" height="13" fill="#000"/><rect x="38" y="485" width="3" height="3" fill="#000"/><rect x="43" y="478" width="1" height="35" fill="#000"/><rect x="42" y="486" width="3" height="13" fill="#000"/><rect x="47" y="482" width="1" height="26" fill="#000"/><rect x="46" y="494" width="3" height="5" fill="#000"/><rect x="47" y="495" width="1" height="3" fill="#fff"/><rect x="51" y="489" width="1" height="27" fill="#000"/><rect x="50" y="494" width="3" height="1" fill="#000"/><rect x="55" y="490" width="1" height="11" fill="#000"/><rect x="54" y="492" width="3" height="3" fill="#000"/><rect x="55" y="493" width="1" height="1" fill="#fff"/><rect x="59" y="463" width="1" height="37" fill="#000"/><rect x="58" y="466" width="3" height="27" fill="#000"/><rect x="59" y="467" width="1" height="25" fill="#fff"/><rect x="63" y="464" width="1" height="19" fill="#000"/><rect x="62" y="466" width="3" height="2" fill="#000"/><rect x="67" y="469" width="1" height="14" fill="#000"/><rect x="66" y="470" width="3" height="1" fill="#000"/><rect x="71" y="455" width="1" height="20" fill="#000"/><rect x="70" y="457" width="3" height="14" fill="#000"/><rect x="71" y="458" width="1" height="12" fill="#fff"/><rect x="75" y="449" width="1" height="13" fill="#000"/><rect x="74" y="451" width="3" height="7" fill="#000"/><rect x="75" y="452" width="1" height="5" fill="#fff"/><rect x="79" y="436" width="1" height="17" fill="#000"/><rect x="78" y="446" width="3" height="5" fill="#000"/><rect x="79" y="447" width="1" height="3" fill="#fff"/><rect x="83" y="442" width="1" height="12" fill="#000"/><rect x="82" y="447" width="3" height="3" fill="#000"/><rect x="87" y="446" width="1" height="9" fill="#000"/><rect x="86" y="448" width="3" height="5" fill="#000"/><rect x="91" y="440" width="1" height="24" fill="#000"/><rect x="90" y="441" width="3" height="10" fill="#000"/><rect x="91" y="442" width="1" height="8" fill="#fff"/><rect x="95" y="436" width="1" height="10" fill="#000"/><rect x="94" y="441" width="3" height="1" fill="#000"/><rect x="99" y="430" width="1" height="18" fill="#000"/><rect x="98" y="439" width="3" height="8" fill="#000"/><rect x="103" y="438" width="1" height="10" fill="#000"/><rect x="102" y="439" width="3" height="8" fill="#000"/><rect x="103" y="440" width="1" height="6" fill="#fff"/><rect x="107" y="430" width="1" height="10" fill="#000"/><rect x="106" y="434" width="3" height="5" fill="#000"/><rect x="107" y="435" width="1" height="3" fill="#fff"/><rect x="111" y="432" width="1" height="12" fill="#000"/><rect x="110" y="434" width="3" height="6" fill="#000"/><rect x="115" y="398" width="1" height="39" fill="#000"/><rect x="114" y="398" width="3" height="39" fill="#000"/><rect x="115" y="399" width="1" height="37" fill="#fff"/><rect x="119" y="385" width="1" height="19" fill="#000"/><rect x="118" y="394" width="3" height="6" fill="#000"/><rect x="119" y="395" width="1" height="4" fill="#fff"/><rect x="123" y="384" width="1" height="14" fill="#000"/><rect x="122" y="390" width="3" height="4" fill="#000"/><rect x="123" y="391" width="1" height="2" fill="#fff"/><rect x="127" y="302" width="1" height="88" fill="#000"/><rect x="126" y="306" width="3" height="84" fill="#000"/><rect x="127" y="307" width="1" height="82" fill="#fff"/><rect x="131" y="304" width="1" height="32" fill="#000"/><rect x="130" y="306" width="3" height="23" fill="#000"/><rect x="135" y="326" width="1" height="24" fill="#000"/><rect x="134" y="329" width="3" height="20" fill="#000"/><rect x="139" y="340" width="1" height="39" fill="#000"/><rect x="138" y="347" width="3" height="28" fill="#000"/><rect x="143" y="366" width="1" height="32" fill="#000"/><rect x="142" y="375" width="3" height="15" fill="#000"/><rect x="147" y="359" width="1" height="33" fill="#000"/><rect x="146" y="360" width="3" height="29" fill="#000"/><rect x="147" y="361" width="1" height="27" fill="#fff"/><rect x="151" y="359" width="1" height="12" fill="#000"/><rect x="150" y="362" width="3" height="2" fill="#000"/><rect x="155" y="341" width="1" height="25" fill="#000"/><rect x="154" y="347" width="3" height="17" fill="#000"/><rect x="155" y="348" width="1" height="15" fill="#fff"/><rect x="159" y="345" width="1" height="19" fill="#000"/><rect x="158" y="347" width="3" height="8" fill="#000"/><rect x="163" y="351" width="1" height="18" fill="#000"/><rect x="162" y="355" width="3" height="5" fill="#000"/><rect x="167" y="345" width="1" height="16" fill="#000"/><rect x="166" y="349" width="3" height="11" fill="#000"/><rect x="167" y="350" width="1" height="9" fill="#fff"/><rect x="171" y="324" width="1" height="29" fill="#000"/><rect x="170" y="330" width="3" height="20" fill="#000"/><rect x="171" y="331" width="1" height="18" fill="#fff"/><rect x="175" y="325" width="1" height="8" fill="#000"/><rect x="174" y="329" width="3" height="2" fill="#000"/><rect x="179" y="319" width="1" height="13" fill="#000"/><rect x="178" y="323" width="3" height="5" fill="#000"/><rect x="179" y="324" width="1" height="3" fill="#fff"/><rect x="183" y="321" width="1" height="17" fill="#000"/><rect x="182" y="322" width="3" height="9" fill="#000"/><rect x="187" y="328" width="1" height="14" fill="#000"/><rect x="186" y="333" width="3" height="4" fill="#000"/><rect x="191" y="334" width="1" height="19" fill="#000"/><rect x="190" y="335" width="3" height="3" fill="#000"/><rect x="191" y="336" width="1" height="1" fill="#fff"/><rect x="195" y="333" width="1" height="20" fill="#000"/><rect x="194" y="336" width="3" height="3" fill="#000"/><rect x="199" y="338" width="1" height="10" fill="#000"/><rect x="198" y="340" width="3" height="5" fill="#000"/><rect x="203" y="341" width="1" height="13" fill="#000"/><rect x="202" y="343" width="3" height="6" fill="#000"/><rect x="207" y="347" width="1" height="16" fill="#000"/><rect x="206" y="349" width="3" height="4" fill="#000"/><rect x="211" y="340" width="1" height="21" fill="#000"/><rect x="210" y="350" width="3" height="10" fill="#000"/><rect x="215" y="348" width="1" height="16" fill="#000"/><rect x="214" y="349" width="3" height="11" fill="#000"/><rect x="215" y="350" width="1" height="9" fill="#fff"/><rect x="219" y="338" width="1" height="16" fill="#000"/><rect x="218" y="339" width="3" height="10" fill="#000"/><rect x="219" y="340" width="1" height="8" fill="#fff"/><rect x="223" y="336" width="1" height="10" fill="#000"/><rect x="222" y="339" width="3" height="7" fill="#000"/><rect x="227" y="339" width="1" height="11" fill="#000"/><rect x="226" y="340" width="3" height="6" fill="#000"/><rect x="227" y="341" width="1" height="4" fill="#fff"/><rect x="231" y="321" width="1" height="20" fill="#000"/><rect x="230" y="327" width="3" height="13" fill="#000"/><rect x="231" y="328" width="1" height="11" fill="#fff"/><rect x="235" y="309" width="1" height="14" fill="#000"/><rect x="234" y="313" width="3" height="7" fill="#000"/><rect x="235" y="314" width="1" height="5" fill="#fff"/><rect x="239" y="299" width="1" height="15" fill="#000"/><rect x="238" y="300" width="3" height="13" fill="#000"/><rect x="239" y="301" width="1" height="11" fill="#fff"/><rect x="243" y="294" width="1" height="13" fill="#000"/><rect x="242" y="296" width="3" height="4" fill="#000"/><rect x="243" y="297" width="1" height="2" fill="#fff"/><rect x="247" y="274" width="1" height="24" fill="#000"/><rect x="246" y="286" width="3" height="8" fill="#000"/><rect x="247" y="287" width="1" height="6" fill="#fff"/><rect x="251" y="279" width="1" height="11" fill="#000"/><rect x="250" y="285" width="3" height="4" fill="#000"/><rect x="255" y="275" width="1" height="20" fill="#000"/><rect x="254" y="280" width="3" height="8" fill="#000"/><rect x="255" y="281" width="1" height="6" fill="#fff"/><rect x="259" y="278" width="1" height="27" fill="#000"/><rect x="258" y="280" width="3" height="25" fill="#000"/><rect x="263" y="290" width="1" height="15" fill="#000"/><rect x="262" y="293" width="3" height="12" fill="#000"/><rect x="263" y="294" width="1" height="10" fill="#fff"/><rect x="267" y="287" width="1" height="11" fill="#000"/><rect x="266" y="293" width="3" height="2" fill="#000"/><rect x="271" y="294" width="1" height="8" fill="#000"/><rect x="270" y="295" width="3" height="5" fill="#000"/><rect x="275" y="289" width="1" height="16" fill="#000"/><rect x="274" y="292" width="3" height="8" fill="#000"/><rect x="275" y="293" width="1" height="6" fill="#fff"/><rect x="279" y="287" width="1" height="11" fill="#000"/><rect x="278" y="292" width="3" height="5" fill="#000"/><rect x="283" y="296" width="1" height="22" fill="#000"/><rect x="282" y="300" width="3" height="11" fill="#000"/><rect x="287" y="305" width="1" height="19" fill="#000"/><rect x="286" y="310" width="3" height="6" fill="#000"/><rect x="291" y="307" width="1" height="16" fill="#000"/><rect x="290" y="310" width="3" height="6" fill="#000"/><rect x="291" y="311" width="1" height="4" fill="#fff"/><rect x="295" y="299" width="1" height="11" fill="#000"/><rect x="294" y="303" width="3" height="7" fill="#000"/><rect x="295" y="304" width="1" height="5" fill="#fff"/><rect x="299" y="303" width="1" height="7" fill="#000"/><rect x="298" y="304" width="3" height="2" fill="#000"/><rect x="303" y="304" width="1" height="30" fill="#000"/><rect x="302" y="306" width="3" height="26" fill="#000"/><rect x="307" y="321" width="1" height="13" fill="#000"/><rect x="306" y="327" width="3" height="3" fill="#000"/><rect x="307" y="328" width="1" height="1" fill="#fff"/><rect x="311" y="326" width="1" height="15" fill="#000"/><rect x="310" y="327" width="3" height="1" fill="#000"/><rect x="315" y="327" width="1" height="19" fill="#000"/><rect x="314" y="328" width="3" height="15" fill="#000"/><rect x="319" y="332" width="1" height="14" fill="#000"/><rect x="318" y="333" width="3" height="11" fill="#000"/><rect x="319" y="334" width="1" height="9" fill="#fff"/><rect x="323" y="329" width="1" height="9" fill="#000"/><rect x="322" y="334" width="3" height="4" fill="#000"/><rect x="327" y="327" width="1" height="11" fill="#000"/><rect x="326" y="337" width="3" height="1" fill="#000"/><rect x="331" y="332" width="1" height="12" fill="#000"/><rect x="330" y="337" width="3" height="3" fill="#000"/><rect x="331" y="338" width="1" height="1" fill="#fff"/><rect x="335" y="333" width="1" height="12" fill="#000"/><rect x="334" y="335" width="3" height="3" fill="#000"/><rect x="335" y="336" width="1" height="1" fill="#fff"/><rect x="339" y="322" width="1" height="18" fill="#000"/><rect x="338" y="324" width="3" height="12" fill="#000"/><rect x="339" y="325" width="1" height="10" fill="#fff"/><rect x="343" y="319" width="1" height="6" fill="#000"/><rect x="342" y="324" width="3" height="1" fill="#000"/><rect x="347" y="318" width="1" height="9" fill="#000"/><rect x="346" y="320" width="3" height="4" fill="#000"/><rect x="347" y="321" width="1" height="2" fill="#fff"/><rect x="351" y="314" width="1" height="8" fill="#000"/><rect x="350" y="316" width="3" height="5" fill="#000"/><rect x="351" y="317" width="1" height="3" fill="#fff"/><rect x="355" y="310" width="1" height="15" fill="#000"/><rect x="354" y="313" width="3" height="9" fill="#000"/><rect x="355" y="314" width="1" height="7" fill="#fff"/><rect x="359" y="308" width="1" height="6" fill="#000"/><rect x="358" y="309" width="3" height="5" fill="#000"/><rect x="359" y="310" width="1" height="3" fill="#fff"/><rect x="363" y="298" width="1" height="13" fill="#000"/><rect x="362" y="299" width="3" height="10" fill="#000"/><rect x="363" y="300" width="1" height="8" fill="#fff"/><rect x="367" y="298" width="1" height="7" fill="#000"/><rect x="366" y="300" width="3" height="1" fill="#000"/><rect x="371" y="294" width="1" height="11" fill="#000"/><rect x="370" y="296" width="3" height="5" fill="#000"/><rect x="371" y="297" width="1" height="3" fill="#fff"/><rect x="375" y="291" width="1" height="9" fill="#000"/><rect x="374" y="296" width="3" height="2" fill="#000"/><rect x="379" y="273" width="1" height="28" fill="#000"/><rect x="378" y="277" width="3" height="23" fill="#000"/><rect x="379" y="278" width="1" height="21" fill="#fff"/><rect x="383" y="269" width="1" height="16" fill="#000"/><rect x="382" y="276" width="3" height="3" fill="#000"/><rect x="387" y="265" width="1" height="15" fill="#000"/><rect x="386" y="267" width="3" height="12" fill="#000"/><rect x="387" y="268" width="1" height="10" fill="#fff"/><rect x="391" y="251" width="1" height="17" fill="#000"/><rect x="390" y="253" width="3" height="14" fill="#000"/><rect x="391" y="254" width="1" height="12" fill="#fff"/><rect x="395" y="248" width="1" height="11" fill="#000"/><rect x="394" y="249" width="3" height="5" fill="#000"/><rect x="395" y="250" width="1" height="3" fill="#fff"/><rect x="399" y="247" width="1" height="8" fill="#000"/><rect x="398" y="249" width="3" height="1" fill="#000"/><rect x="403" y="230" width="1" height="23" fill="#000"/><rect x="402" y="238" width="3" height="14" fill="#000"/><rect x="403" y="239" width="1" height="12" fill="#fff"/><rect x="407" y="236" width="1" height="34" fill="#000"/><rect x="406" y="238" width="3" height="31" fill="#000"/><rect x="411" y="252" width="1" height="20" fill="#000"/><rect x="410" y="268" width="3" height="1" fill="#000"/><rect x="415" y="263" width="1" height="8" fill="#000"/><rect x="414" y="269" width="3" height="1" fill="#000"/><rect x="419" y="262" width="1" height="15" fill="#000"/><rect x="418" y="263" width="3" height="6" fill="#000"/><rect x="419" y="264" width="1" height="4" fill="#fff"/><rect x="423" y="258" width="1" height="12" fill="#000"/><rect x="422" y="263" width="3" height="6" fill="#000"/><rect x="427" y="252" width="1" height="19" fill="#000"/><rect x="426" y="257" width="3" height="8" fill="#000"/><rect x="427" y="258" width="1" height="6" fill="#fff"/><rect x="431" y="245" width="1" height="14" fill="#000"/><rect x="430" y="246" width="3" height="11" fill="#000"/><rect x="431" y="247" width="1" height="9" fill="#fff"/><rect x="435" y="242" width="1" height="10" fill="#000"/><rect x="434" y="246" width="3" height="5" fill="#000"/><rect x="439" y="249" width="1" height="6" fill="#000"/><rect x="438" y="251" width="3" height="1" fill="#000"/><rect x="443" y="247" width="1" height="7" fill="#000"/><rect x="442" y="252" width="3" height="1" fill="#000"/><rect x="447" y="236" width="1" height="20" fill="#000"/><rect x="446" y="247" width="3" height="5" fill="#000"/><rect x="447" y="248" width="1" height="3" fill="#fff"/><rect x="451" y="234" width="1" height="24" fill="#000"/><rect x="450" y="236" width="3" height="11" fill="#000"/><rect x="451" y="237" width="1" height="9" fill="#fff"/><rect x="455" y="228" width="1" height="14" fill="#000"/><rect x="454" y="233" width="3" height="5" fill="#000"/><rect x="455" y="234" width="1" height="3" fill="#fff"/><rect x="459" y="226" width="1" height="8" fill="#000"/><rect x="458" y="228" width="3" height="5" fill="#000"/><rect x="459" y="229" width="1" height="3" fill="#fff"/><rect x="463" y="223" width="1" height="6" fill="#000"/><rect x="462" y="225" width="3" height="3" fill="#000"/><rect x="463" y="226" width="1" height="1" fill="#fff"/><rect x="467" y="223" width="1" height="2" fill="#000"/><rect x="466" y="224" width="3" height="1" fill="#000"/><rect x="471" y="214" width="1" height="31" fill="#000"/><rect x="470" y="219" width="3" height="15" fill="#000"/><rect x="475" y="234" width="1" height="24" fill="#000"/><rect x="474" y="234" width="3" height="20" fill="#000"/><rect x="479" y="234" width="1" height="22" fill="#000"/><rect x="478" y="238" width="3" height="17" fill="#000"/><rect x="479" y="239" width="1" height="15" fill="#fff"/><rect x="483" y="238" width="1" height="16" fill="#000"/><rect x="482" y="239" width="3" height="2" fill="#000"/><rect x="487" y="240" width="1" height="22" fill="#000"/><rect x="486" y="242" width="3" height="11" fill="#000"/><rect x="491" y="249" width="1" height="19" fill="#000"/><rect x="490" y="250" width="3" height="3" fill="#000"/><rect x="491" y="251" width="1" height="1" fill="#fff"/><rect x="495" y="220" width="1" height="36" fill="#000"/><rect x="494" y="222" width="3" height="34" fill="#000"/><rect x="495" y="223" width="1" height="32" fill="#fff"/><rect x="499" y="218" width="1" height="11" fill="#000"/><rect x="498" y="223" width="3" height="1" fill="#000"/><rect x="503" y="215" width="1" height="18" fill="#000"/><rect x="502" y="217" width="3" height="6" fill="#000"/><rect x="503" y="218" width="1" height="4" fill="#fff"/><rect x="507" y="209" width="1" height="9" fill="#000"/><rect x="506" y="212" width="3" height="5" fill="#000"/><rect x="507" y="213" width="1" height="3" fill="#fff"/><rect x="511" y="208" width="1" height="9" fill="#000"/><rect x="510" y="213" width="3" height="1" fill="#000"/><rect x="515" y="209" width="1" height="11" fill="#000"/><rect x="514" y="211" width="3" height="5" fill="#000"/><rect x="519" y="212" width="1" height="22" fill="#000"/><rect x="518" y="216" width="3" height="13" fill="#000"/><rect x="523" y="216" width="1" height="15" fill="#000"/><rect x="522" y="226" width="3" height="3" fill="#000"/><rect x="523" y="227" width="1" height="1" fill="#fff"/><rect x="527" y="214" width="1" height="12" fill="#000"/><rect x="526" y="220" width="3" height="5" fill="#000"/><rect x="527" y="221" width="1" height="3" fill="#fff"/><rect x="531" y="218" width="1" height="11" fill="#000"/><rect x="530" y="220" width="3" height="6" fill="#000"/><rect x="535" y="217" width="1" height="13" fill="#000"/><rect x="534" y="221" width="3" height="5" fill="#000"/><rect x="535" y="222" width="1" height="3" fill="#fff"/><rect x="539" y="216" width="1" height="8" fill="#000"/><rect x="538" y="217" width="3" height="4" fill="#000"/><rect x="539" y="218" width="1" height="2" fill="#fff"/><rect x="543" y="214" width="1" height="17" fill="#000"/><rect x="542" y="218" width="3" height="3" fill="#000"/><rect x="547" y="212" width="1" height="17" fill="#000"/><rect x="546" y="221" width="3" height="2" fill="#000"/><rect x="551" y="217" width="1" height="9" fill="#000"/><rect x="550" y="223" width="3" height="1" fill="#000"/><rect x="555" y="218" width="1" height="6" fill="#000"/><rect x="554" y="223" width="3" height="1" fill="#000"/><rect x="559" y="220" width="1" height="6" fill="#000"/><rect x="558" y="222" width="3" height="2" fill="#000"/><rect x="563" y="220" width="1" height="13" fill="#000"/><rect x="562" y="223" width="3" height="5" fill="#000"/><rect x="567" y="223" width="1" height="13" fill="#000"/><rect x="566" y="228" width="3" height="5" fill="#000"/><rect x="571" y="225" width="1" height="12" fill="#000"/><rect x="570" y="226" width="3" height="7" fill="#000"/><rect x="571" y="227" width="1" height="5" fill="#fff"/><rect x="575" y="220" width="1" height="9" fill="#000"/><rect x="574" y="223" width="3" height="4" fill="#000"/><rect x="575" y="224" width="1" height="2" fill="#fff"/><rect x="579" y="222" width="1" height="7" fill="#000"/><rect x="578" y="224" width="3" height="2" fill="#000"/><rect x="583" y="217" width="1" height="12" fill="#000"/><rect x="582" y="220" width="3" height="8" fill="#000"/><rect x="583" y="221" width="1" height="6" fill="#fff"/><rect x="587" y="217" width="1" height="5" fill="#000"/><rect x="586" y="218" width="3" height="2" fill="#000"/><rect x="591" y="209" width="1" height="27" fill="#000"/><rect x="590" y="212" width="3" height="19" fill="#000"/><rect x="595" y="232" width="1" height="18" fill="#000"/><rect x="594" y="232" width="3" height="14" fill="#000"/><rect x="599" y="242" width="1" height="23" fill="#000"/><rect x="598" y="243" width="3" height="15" fill="#000"/><rect x="603" y="247" width="1" height="14" fill="#000"/><rect x="602" y="250" width="3" height="9" fill="#000"/><rect x="603" y="251" width="1" height="7" fill="#fff"/><rect x="607" y="247" width="1" height="9" fill="#000"/><rect x="606" y="253" width="3" height="3" fill="#000"/><rect x="611" y="253" width="1" height="12" fill="#000"/><rect x="610" y="253" width="3" height="11" fill="#000"/><rect x="615" y="248" width="1" height="19" fill="#000"/><rect x="614" y="251" width="3" height="12" fill="#000"/><rect x="615" y="252" width="1" height="10" fill="#fff"/><rect x="619" y="247" width="1" height="13" fill="#000"/><rect x="618" y="251" width="3" height="1" fill="#000"/><rect x="623" y="246" width="1" height="11" fill="#000"/><rect x="622" y="251" width="3" height="5" fill="#000"/><rect x="627" y="254" width="1" height="9" fill="#000"/><rect x="626" y="255" width="3" height="1" fill="#000"/><rect x="631" y="246" width="1" height="14" fill="#000"/><rect x="630" y="247" width="3" height="9" fill="#000"/><rect x="631" y="248" width="1" height="7" fill="#fff"/><rect x="635" y="246" width="1" height="3" fill="#000"/><rect x="634" y="247" width="3" height="1" fill="#000"/><rect x="639" y="223" width="1" height="27" fill="#000"/><rect x="638" y="233" width="3" height="13" fill="#000"/><rect x="639" y="234" width="1" height="11" fill="#fff"/><rect x="643" y="221" width="1" height="13" fill="#000"/><rect x="642" y="224" width="3" height="9" fill="#000"/><rect x="643" y="225" width="1" height="7" fill="#fff"/><rect x="647" y="213" width="1" height="12" fill="#000"/><rect x="646" y="218" width="3" height="6" fill="#000"/><rect x="647" y="219" width="1" height="4" fill="#fff"/><rect x="651" y="216" width="1" height="8" fill="#000"/><rect x="650" y="218" width="3" height="3" fill="#000"/><rect x="655" y="221" width="1" height="15" fill="#000"/><rect x="654" y="222" width="3" height="11" fill="#000"/><rect x="659" y="232" width="1" height="20" fill="#000"/><rect x="658" y="233" width="3" height="5" fill="#000"/><rect x="663" y="231" width="1" height="10" fill="#000"/><rect x="662" y="235" width="3" height="6" fill="#000"/><rect x="663" y="236" width="1" height="4" fill="#fff"/><rect x="667" y="221" width="1" height="15" fill="#000"/><rect x="666" y="228" width="3" height="7" fill="#000"/><rect x="667" y="229" width="1" height="5" fill="#fff"/><rect x="671" y="225" width="1" height="14" fill="#000"/><rect x="670" y="229" width="3" height="1" fill="#000"/><rect x="675" y="226" width="1" height="15" fill="#000"/><rect x="674" y="228" width="3" height="11" fill="#000"/><rect x="679" y="228" width="1" height="13" fill="#000"/><rect x="678" y="233" width="3" height="6" fill="#000"/><rect x="679" y="234" width="1" height="4" fill="#fff"/><rect x="683" y="228" width="1" height="8" fill="#000"/><rect x="682" y="233" width="3" height="2" fill="#000"/><rect x="687" y="223" width="1" height="25" fill="#000"/><rect x="686" y="234" width="3" height="9" fill="#000"/><rect x="691" y="235" width="1" height="12" fill="#000"/><rect x="690" y="239" width="3" height="4" fill="#000"/><rect x="691" y="240" width="1" height="2" fill="#fff"/><rect x="695" y="238" width="1" height="18" fill="#000"/><rect x="694" y="239" width="3" height="13" fill="#000"/><rect x="699" y="250" width="1" height="9" fill="#000"/><rect x="698" y="250" width="3" height="3" fill="#000"/><rect x="699" y="251" width="1" height="1" fill="#fff"/><rect x="703" y="246" width="1" height="8" fill="#000"/><rect x="702" y="251" width="3" height="1" fill="#000"/><rect x="707" y="242" width="1" height="10" fill="#000"/><rect x="706" y="244" width="3" height="8" fill="#000"/><rect x="707" y="245" width="1" height="6" fill="#fff"/><rect x="711" y="220" width="1" height="23" fill="#000"/><rect x="710" y="222" width="3" height="9" fill="#000"/><rect x="711" y="223" width="1" height="7" fill="#fff"/><rect x="715" y="221" width="1" height="14" fill="#000"/><rect x="714" y="222" width="3" height="11" fill="#000"/><rect x="719" y="222" width="1" height="12" fill="#000"/><rect x="718" y="228" width="3" height="5" fill="#000"/><rect x="719" y="229" width="1" height="3" fill="#fff"/><rect x="723" y="223" width="1" height="6" fill="#000"/><rect x="722" y="228" width="3" height="1" fill="#000"/><rect x="727" y="223" width="1" height="10" fill="#000"/><rect x="726" y="228" width="3" height="1" fill="#000"/><rect x="731" y="228" width="1" height="9" fill="#000"/><rect x="730" y="229" width="3" height="7" fill="#000"/><rect x="735" y="232" width="1" height="9" fill="#000"/><rect x="734" y="236" width="3" height="2" fill="#000"/><rect x="739" y="234" width="1" height="10" fill="#000"/><rect x="738" y="237" width="3" height="1" fill="#000"/><rect x="743" y="224" width="1" height="13" fill="#000"/><rect x="742" y="228" width="3" height="9" fill="#000"/><rect x="743" y="229" width="1" height="7" fill="#fff"/><rect x="747" y="225" width="1" height="5" fill="#000"/><rect x="746" y="226" width="3" height="2" fill="#000"/><rect x="751" y="224" width="1" height="8" fill="#000"/><rect x="750" y="225" width="3" height="1" fill="#000"/><rect x="755" y="222" width="1" height="4" fill="#000"/><rect x="754" y="224" width="3" height="1" fill="#000"/><rect x="759" y="219" width="1" height="11" fill="#000"/><rect x="758" y="221" width="3" height="9" fill="#000"/><rect x="763" y="226" width="1" height="8" fill="#000"/><rect x="762" y="229" width="3" height="2" fill="#000"/><rect x="767" y="225" width="1" height="8" fill="#000"/><rect x="766" y="228" width="3" height="3" fill="#000"/><rect x="767" y="229" width="1" height="1" fill="#fff"/><rect x="771" y="225" width="1" height="6" fill="#000"/><rect x="770" y="228" width="3" height="2" fill="#000"/><rect x="775" y="227" width="1" height="5" fill="#000"/><rect x="774" y="228" width="3" height="3" fill="#000"/><rect x="775" y="229" width="1" height="1" fill="#fff"/><rect x="779" y="224" width="1" height="7" fill="#000"/><rect x="778" y="225" width="3" height="4" fill="#000"/><rect x="779" y="226" width="1" height="2" fill="#fff"/><rect x="783" y="223" width="1" height="14" fill="#000"/><rect x="782" y="226" width="3" height="3" fill="#000"/><rect x="787" y="222" width="1" height="10" fill="#000"/><rect x="786" y="224" width="3" height="6" fill="#000"/><rect x="787" y="225" width="1" height="4" fill="#fff"/><rect x="791" y="220" width="1" height="7" fill="#000"/><rect x="790" y="223" width="3" height="3" fill="#000"/><rect x="795" y="223" width="1" height="3" fill="#000"/><rect x="794" y="225" width="3" height="1" fill="#000"/><rect x="799" y="222" width="1" height="6" fill="#000"/><rect x="798" y="224" width="3" height="1" fill="#000"/><rect x="803" y="223" width="1" height="5" fill="#000"/><rect x="802" y="226" width="3" height="1" fill="#000"/><rect x="807" y="224" width="1" height="6" fill="#000"/><rect x="806" y="228" width="3" height="1" fill="#000"/><rect x="811" y="227" width="1" height="8" fill="#000"/><rect x="810" y="228" width="3" height="2" fill="#000"/><rect x="815" y="218" width="1" height="14" fill="#000"/><rect x="814" y="222" width="3" height="7" fill="#000"/><rect x="815" y="223" width="1" height="5" fill="#fff"/><rect x="819" y="221" width="1" height="6" fill="#000"/><rect x="818" y="222" width="3" height="4" fill="#000"/><rect x="823" y="224" width="1" height="7" fill="#000"/><rect x="822" y="226" width="3" height="2" fill="#000"/><rect x="827" y="226" width="1" height="8" fill="#000"/><rect x="826" y="228" width="3" height="1" fill="#000"/><rect x="831" y="217" width="1" height="34" fill="#000"/><rect x="830" y="219" width="3" height="27" fill="#000"/><rect x="835" y="232" width="1" height="16" fill="#000"/><rect x="834" y="234" width="3" height="13" fill="#000"/><rect x="835" y="235" width="1" height="11" fill="#fff"/><rect x="839" y="232" width="1" height="23" fill="#000"/><rect x="838" y="234" width="3" height="20" fill="#000"/><rect x="843" y="248" width="1" height="30" fill="#000"/><rect x="842" y="254" width="3" height="13" fill="#000"/><rect x="847" y="251" width="1" height="18" fill="#000"/><rect x="846" y="252" width="3" height="15" fill="#000"/><rect x="847" y="253" width="1" height="13" fill="#fff"/><rect x="851" y="244" width="1" height="9" fill="#000"/><rect x="850" y="248" width="3" height="4" fill="#000"/><rect x="851" y="249" width="1" height="2" fill="#fff"/><rect x="855" y="239" width="1" height="18" fill="#000"/><rect x="854" y="243" width="3" height="5" fill="#000"/><rect x="855" y="244" width="1" height="3" fill="#fff"/><rect x="859" y="239" width="1" height="26" fill="#000"/><rect x="858" y="243" width="3" height="19" fill="#000"/><rect x="863" y="247" width="1" height="17" fill="#000"/><rect x="862" y="254" width="3" height="7" fill="#000"/><rect x="863" y="255" width="1" height="5" fill="#fff"/><rect x="867" y="247" width="1" height="9" fill="#000"/><rect x="866" y="248" width="3" height="4" fill="#000"/><rect x="867" y="249" width="1" height="2" fill="#fff"/><rect x="871" y="243" width="1" height="12" fill="#000"/><rect x="870" y="246" width="3" height="3" fill="#000"/><rect x="871" y="247" width="1" height="1" fill="#fff"/><rect x="875" y="239" width="1" height="11" fill="#000"/><rect x="874" y="245" width="3" height="3" fill="#000"/><rect x="879" y="241" width="1" height="18" fill="#000"/><rect x="878" y="248" width="3" height="6" fill="#000"/><rect x="883" y="247" width="1" height="9" fill="#000"/><rect x="882" y="251" width="3" height="3" fill="#000"/><rect x="883" y="252" width="1" height="1" fill="#fff"/><rect x="887" y="241" width="1" height="11" fill="#000"/><rect x="886" y="243" width="3" height="8" fill="#000"/><rect x="887" y="244" width="1" height="6" fill="#fff"/><rect x="891" y="240" width="1" height="6" fill="#000"/><rect x="890" y="241" width="3" height="4" fill="#000"/><rect x="891" y="242" width="1" height="2" fill="#fff"/><rect x="895" y="231" width="1" height="10" fill="#000"/><rect x="894" y="232" width="3" height="9" fill="#000"/><rect x="895" y="233" width="1" height="7" fill="#fff"/><rect x="899" y="229" width="1" height="9" fill="#000"/><rect x="898" y="232" width="3" height="2" fill="#000"/><rect x="903" y="230" width="1" height="15" fill="#000"/><rect x="902" y="233" width="3" height="5" fill="#000"/><rect x="907" y="236" width="1" height="7" fill="#000"/><rect x="906" y="238" width="3" height="1" fill="#000"/><rect x="911" y="234" width="1" height="6" fill="#000"/><rect x="910" y="235" width="3" height="3" fill="#000"/><rect x="911" y="236" width="1" height="1" fill="#fff"/><rect x="915" y="235" width="1" height="1" fill="#000"/><rect x="914" y="235" width="3" height="1" fill="#000"/><rect x="919" y="234" width="1" height="6" fill="#000"/><rect x="918" y="236" width="3" height="2" fill="#000"/><rect x="923" y="238" width="1" height="1" fill="#000"/><rect x="922" y="238" width="3" height="1" fill="#000"/><rect x="927" y="228" width="1" height="10" fill="#000"/><rect x="926" y="230" width="3" height="6" fill="#000"/><rect x="927" y="231" width="1" height="4" fill="#fff"/><rect x="931" y="221" width="1" height="11" fill="#000"/><rect x="930" y="222" width="3" height="8" fill="#000"/><rect x="931" y="223" width="1" height="6" fill="#fff"/><rect x="935" y="220" width="1" height="5" fill="#000"/><rect x="934" y="221" width="3" height="2" fill="#000"/><rect x="939" y="218" width="1" height="4" fill="#000"/><rect x="938" y="219" width="3" height="3" fill="#000"/><rect x="939" y="220" width="1" height="1" fill="#fff"/><rect x="943" y="209" width="1" height="11" fill="#000"/><rect x="942" y="212" width="3" height="7" fill="#000"/><rect x="943" y="213" width="1" height="5" fill="#fff"/><rect x="947" y="211" width="1" height="4" fill="#000"/><rect x="946" y="213" width="3" height="1" fill="#000"/><rect x="951" y="178" width="1" height="38" fill="#000"/><rect x="950" y="182" width="3" height="30" fill="#000"/><rect x="951" y="183" width="1" height="28" fill="#fff"/><rect x="955" y="152" width="1" height="31" fill="#000"/><rect x="954" y="153" width="3" height="30" fill="#000"/><rect x="955" y="154" width="1" height="28" fill="#fff"/><rect x="959" y="142" width="1" height="13" fill="#000"/><rect x="958" y="148" width="3" height="6" fill="#000"/><rect x="959" y="149" width="1" height="4" fill="#fff"/><rect x="963" y="144" width="1" height="9" fill="#000"/><rect x="962" y="148" width="3" height="1" fill="#000"/><rect x="967" y="146" width="1" height="17" fill="#000"/><rect x="966" y="147" width="3" height="13" fill="#000"/><rect x="971" y="156" width="1" height="6" fill="#000"/><rect x="970" y="158" width="3" height="3" fill="#000"/><rect x="971" y="159" width="1" height="1" fill="#fff"/><rect x="975" y="150" width="1" height="25" fill="#000"/><rect x="974" y="158" width="3" height="12" fill="#000"/><rect x="979" y="155" width="1" height="17" fill="#000"/><rect x="978" y="165" width="3" height="5" fill="#000"/><rect x="979" y="166" width="1" height="3" fill="#fff"/><rect x="983" y="153" width="1" height="16" fill="#000"/><rect x="982" y="158" width="3" height="7" fill="#000"/><rect x="983" y="159" width="1" height="5" fill="#fff"/><rect x="987" y="154" width="1" height="10" fill="#000"/><rect x="986" y="158" width="3" height="5" fill="#000"/><rect x="991" y="150" width="1" height="14" fill="#000"/><rect x="990" y="153" width="3" height="10" fill="#000"/><rect x="991" y="154" width="1" height="8" fill="#fff"/><rect x="995" y="153" width="1" height="16" fill="#000"/><rect x="994" y="153" width="3" height="12" fill="#000"/><rect x="999" y="156" width="1" height="12" fill="#000"/><rect x="998" y="160" width="3" height="6" fill="#000"/><rect x="999" y="161" width="1" height="4" fill="#fff"/><rect x="1003" y="159" width="1" height="6" fill="#000"/><rect x="1002" y="160" width="3" height="2" fill="#000"/><rect x="1007" y="160" width="1" height="6" fill="#000"/><rect x="1006" y="161" width="3" height="4" fill="#000"/><rect x="1011" y="158" width="1" height="8" fill="#000"/><rect x="1010" y="160" width="3" height="5" fill="#000"/><rect x="1011" y="161" width="1" height="3" fill="#fff"/><rect x="1015" y="159" width="1" height="6" fill="#000"/><rect x="1014" y="161" width="3" height="1" fill="#000"/><rect x="1019" y="153" width="1" height="12" fill="#000"/><rect x="1018" y="159" width="3" height="3" fill="#000"/><rect x="1019" y="160" width="1" height="1" fill="#fff"/><rect x="1023" y="145" width="1" height="57" fill="#000"/><rect x="1022" y="163" width="3" height="19" fill="#000"/><rect x="1027" y="174" width="1" height="14" fill="#000"/><rect x="1026" y="181" width="3" height="1" fill="#000"/><rect x="1031" y="167" width="1" height="17" fill="#000"/><rect x="1030" y="168" width="3" height="15" fill="#000"/><rect x="1031" y="169" width="1" height="13" fill="#fff"/><rect x="1035" y="166" width="1" height="8" fill="#000"/><rect x="1034" y="167" width="3" height="1" fill="#000"/><rect x="1039" y="162" width="1" height="40" fill="#000"/><rect x="1038" y="166" width="3" height="28" fill="#000"/><rect x="1043" y="186" width="1" height="11" fill="#000"/><rect x="1042" y="189" width="3" height="1" fill="#000"/><rect x="1047" y="182" width="1" height="16" fill="#000"/><rect x="1046" y="190" width="3" height="5" fill="#000"/><rect x="1047" y="191" width="1" height="3" fill="#fff"/><rect x="1051" y="181" width="1" height="18" fill="#000"/><rect x="1050" y="189" width="3" height="5" fill="#000"/><rect x="1055" y="190" width="1" height="19" fill="#000"/><rect x="1054" y="191" width="3" height="2" fill="#000"/><rect x="1059" y="189" width="1" height="17" fill="#000"/><rect x="1058" y="190" width="3" height="15" fill="#000"/><rect x="1063" y="189" width="1" height="18" fill="#000"/><rect x="1062" y="190" width="3" height="16" fill="#000"/><rect x="1063" y="191" width="1" height="14" fill="#fff"/><rect x="1067" y="186" width="1" height="10" fill="#000"/><rect x="1066" y="191" width="3" height="3" fill="#000"/><rect x="1071" y="188" width="1" height="15" fill="#000"/><rect x="1070" y="191" width="3" height="9" fill="#000"/><rect x="1075" y="194" width="1" height="11" fill="#000"/><rect x="1074" y="198" width="3" height="2" fill="#000"/><rect x="1079" y="193" width="1" height="16" fill="#000"/><rect x="1078" y="198" width="3" height="4" fill="#000"/><rect x="1079" y="199" width="1" height="2" fill="#fff"/><rect x="1083" y="192" width="1" height="7" fill="#000"/><rect x="1082" y="195" width="3" height="3" fill="#000"/><rect x="1083" y="196" width="1" height="1" fill="#fff"/><rect x="1087" y="164" width="1" height="33" fill="#000"/><rect x="1086" y="165" width="3" height="31" fill="#000"/><rect x="1087" y="166" width="1" height="29" fill="#fff"/><rect x="1091" y="163" width="1" height="17" fill="#000"/><rect x="1090" y="165" width="3" height="7" fill="#000"/><rect x="1095" y="150" width="1" height="28" fill="#000"/><rect x="1094" y="151" width="3" height="25" fill="#000"/><rect x="1095" y="152" width="1" height="23" fill="#fff"/><rect x="1099" y="151" width="1" height="18" fill="#000"/><rect x="1098" y="151" width="3" height="14" fill="#000"/><rect x="1103" y="153" width="1" height="17" fill="#000"/><rect x="1102" y="163" width="3" height="3" fill="#000"/><rect x="1107" y="160" width="1" height="10" fill="#000"/><rect x="1106" y="162" width="3" height="4" fill="#000"/><rect x="1107" y="163" width="1" height="2" fill="#fff"/><rect x="1111" y="149" width="1" height="15" fill="#000"/><rect x="1110" y="155" width="3" height="9" fill="#000"/><rect x="1111" y="156" width="1" height="7" fill="#fff"/><rect x="1115" y="148" width="1" height="10" fill="#000"/><rect x="1114" y="152" width="3" height="3" fill="#000"/><rect x="1115" y="153" width="1" height="1" fill="#fff"/><rect x="1119" y="123" width="1" height="29" fill="#000"/><rect x="1118" y="125" width="3" height="26" fill="#000"/><rect x="1119" y="126" width="1" height="24" fill="#fff"/><rect x="1123" y="106" width="1" height="20" fill="#000"/><rect x="1122" y="106" width="3" height="19" fill="#000"/><rect x="1123" y="107" width="1" height="17" fill="#fff"/><rect x="1127" y="91" width="1" height="18" fill="#000"/><rect x="1126" y="100" width="3" height="6" fill="#000"/><rect x="1127" y="101" width="1" height="4" fill="#fff"/><rect x="1131" y="96" width="1" height="12" fill="#000"/><rect x="1130" y="99" width="3" height="7" fill="#000"/><rect x="1135" y="97" width="1" height="12" fill="#000"/><rect x="1134" y="100" width="3" height="6" fill="#000"/><rect x="1135" y="101" width="1" height="4" fill="#fff"/><rect x="1139" y="89" width="1" height="25" fill="#000"/><rect x="1138" y="90" width="3" height="11" fill="#000"/><rect x="1139" y="91" width="1" height="9" fill="#fff"/><rect x="1143" y="85" width="1" height="17" fill="#000"/><rect x="1142" y="86" width="3" height="15" fill="#000"/><rect x="1147" y="96" width="1" height="14" fill="#000"/><rect x="1146" y="99" width="3" height="7" fill="#000"/><rect x="1151" y="99" width="1" height="12" fill="#000"/><rect x="1150" y="107" width="3" height="1" fill="#000"/><rect x="1155" y="103" width="1" height="12" fill="#000"/><rect x="1154" y="106" width="3" height="8" fill="#000"/><rect x="1159" y="105" width="1" height="15" fill="#000"/><rect x="1158" y="107" width="3" height="8" fill="#000"/><rect x="1159" y="108" width="1" height="6" fill="#fff"/><rect x="1163" y="104" width="1" height="11" fill="#000"/><rect x="1162" y="106" width="3" height="5" fill="#000"/><rect x="1167" y="91" width="1" height="29" fill="#000"/><rect x="1166" y="101" width="3" height="11" fill="#000"/><rect x="1167" y="102" width="1" height="9" fill="#fff"/><rect x="1171" y="93" width="1" height="17" fill="#000"/><rect x="1170" y="100" width="3" height="1" fill="#000"/><rect x="1175" y="94" width="1" height="9" fill="#000"/><rect x="1174" y="96" width="3" height="4" fill="#000"/><rect x="1175" y="97" width="1" height="2" fill="#fff"/><rect x="1179" y="95" width="1" height="11" fill="#000"/><rect x="1178" y="96" width="3" height="9" fill="#000"/><rect x="1183" y="97" width="1" height="12" fill="#000"/><rect x="1182" y="101" width="3" height="4" fill="#000"/><rect x="1183" y="102" width="1" height="2" fill="#fff"/><rect x="1187" y="98" width="1" height="7" fill="#000"/><rect x="1186" y="102" width="3" height="1" fill="#000"/><rect x="1191" y="89" width="1" height="17" fill="#000"/><rect x="1190" y="90" width="3" height="11" fill="#000"/><rect x="1191" y="91" width="1" height="9" fill="#fff"/><rect x="1195" y="71" width="1" height="24" fill="#000"/><rect x="1194" y="75" width="3" height="16" fill="#000"/><rect x="1195" y="76" width="1" height="14" fill="#fff"/><rect x="1199" y="73" width="1" height="6" fill="#000"/><rect x="1198" y="76" width="3" height="2" fill="#000"/><rect x="1203" y="75" width="1" height="10" fill="#000"/><rect x="1202" y="76" width="3" height="4" fill="#000"/><rect x="1207" y="71" width="1" height="12" fill="#000"/><rect x="1206" y="74" width="3" height="5" fill="#000"/><rect x="1207" y="75" width="1" height="3" fill="#fff"/><rect x="1211" y="71" width="1" height="8" fill="#000"/><rect x="1210" y="75" width="3" height="3" fill="#000"/><rect x="1215" y="43" width="1" height="38" fill="#000"/><rect x="1214" y="43" width="3" height="35" fill="#000"/><rect x="1215" y="44" width="1" height="33" fill="#fff"/><rect x="1219" y="29" width="1" height="37" fill="#000"/><rect x="1218" y="43" width="3" height="14" fill="#000"/><rect x="1223" y="34" width="1" height="23" fill="#000"/><rect x="1222" y="37" width="3" height="19" fill="#000"/><rect x="1223" y="38" width="1" height="17" fill="#fff"/><rect x="1227" y="36" width="1" height="9" fill="#000"/><rect x="1226" y="37" width="3" height="3" fill="#000"/><rect x="1231" y="31" width="1" height="10" fill="#000"/><rect x="1230" y="34" width="3" height="6" fill="#000"/><rect x="1231" y="35" width="1" height="4" fill="#fff"/><rect x="1235" y="32" width="1" height="13" fill="#000"/><rect x="1234" y="33" width="3" height="11" fill="#000"/><rect x="1239" y="35" width="1" height="29" fill="#000"/><rect x="1238" y="42" width="3" height="21" fill="#000"/><rect x="1243" y="54" width="1" height="21" fill="#000"/><rect x="1242" y="62" width="3" height="12" fill="#000"/><rect x="1247" y="64" width="1" height="11" fill="#000"/><rect x="1246" y="66" width="3" height="6" fill="#000"/><rect x="1247" y="67" width="1" height="4" fill="#fff"/><rect x="1251" y="64" width="1" height="19" fill="#000"/><rect x="1250" y="66" width="3" height="12" fill="#000"/><rect x="1255" y="76" width="1" height="27" fill="#000"/><rect x="1254" y="78" width="3" height="3" fill="#000"/><rect x="1259" y="78" width="1" height="10" fill="#000"/><rect x="1258" y="81" width="3" height="7" fill="#000"/><rect x="1263" y="85" width="1" height="21" fill="#000"/><rect x="1262" y="86" width="3" height="4" fill="#000"/><rect x="1267" y="87" width="1" height="13" fill="#000"/><rect x="1266" y="88" width="3" height="7" fill="#000"/><rect x="1271" y="93" width="1" height="9" fill="#000"/><rect x="1270" y="94" width="3" height="3" fill="#000"/><rect x="1275" y="88" width="1" height="10" fill="#000"/><rect x="1274" y="88" width="3" height="9" fill="#000"/><rect x="1275" y="89" width="1" height="7" fill="#fff"/><rect x="1279" y="86" width="1" height="5" fill="#000"/><rect x="1278" y="86" width="3" height="3" fill="#000"/><rect x="1279" y="87" width="1" height="1" fill="#fff"/><rect x="1283" y="57" width="1" height="33" fill="#000"/><rect x="1282" y="65" width="3" height="24" fill="#000"/><rect x="1283" y="66" width="1" height="22" fill="#fff"/><rect x="1287" y="52" width="1" height="16" fill="#000"/><rect x="1286" y="62" width="3" height="3" fill="#000"/><rect x="1287" y="63" width="1" height="1" fill="#fff"/><rect x="1291" y="46" width="1" height="17" fill="#000"/><rect x="1290" y="48" width="3" height="14" fill="#000"/><rect x="1291" y="49" width="1" height="12" fill="#fff"/><rect x="1295" y="47" width="1" height="12" fill="#000"/><rect x="1294" y="48" width="3" height="11" fill="#000"/><rect x="1299" y="55" width="1" height="12" fill="#000"/><rect x="1298" y="56" width="3" height="3" fill="#000"/><rect x="1299" y="57" width="1" height="1" fill="#fff"/><rect x="1303" y="49" width="1" height="8" fill="#000"/><rect x="1302" y="50" width="3" height="6" fill="#000"/><rect x="1303" y="51" width="1" height="4" fill="#fff"/><rect x="1307" y="44" width="1" height="31" fill="#000"/><rect x="1306" y="50" width="3" height="20" fill="#000"/><rect x="1311" y="67" width="1" height="14" fill="#000"/><rect x="1310" y="68" width="3" height="4" fill="#000"/><rect x="1315" y="62" width="1" height="13" fill="#000"/><rect x="1314" y="68" width="3" height="3" fill="#000"/><rect x="1315" y="69" width="1" height="1" fill="#fff"/><rect x="1319" y="63" width="1" height="5" fill="#000"/><rect x="1318" y="64" width="3" height="3" fill="#000"/><rect x="1319" y="65" width="1" height="1" fill="#fff"/><rect x="1323" y="58" width="1" height="9" fill="#000"/><rect x="1322" y="59" width="3" height="6" fill="#000"/><rect x="1323" y="60" width="1" height="4" fill="#fff"/><rect x="1327" y="52" width="1" height="9" fill="#000"/><rect x="1326" y="56" width="3" height="3" fill="#000"/><rect x="1327" y="57" width="1" height="1" fill="#fff"/><rect x="1331" y="42" width="1" height="16" fill="#000"/><rect x="1330" y="54" width="3" height="3" fill="#000"/><rect x="1331" y="55" width="1" height="1" fill="#fff"/><rect x="1335" y="45" width="1" height="10" fill="#000"/><rect x="1334" y="50" width="3" height="4" fill="#000"/><rect x="1335" y="51" width="1" height="2" fill="#fff"/><rect x="1339" y="47" width="1" height="12" fill="#000"/><rect x="1338" y="49" width="3" height="7" fill="#000"/><rect x="1343" y="51" width="1" height="13" fill="#000"/><rect x="1342" y="55" width="3" height="5" fill="#000"/><rect x="1347" y="56" width="1" height="14" fill="#000"/><rect x="1346" y="59" width="3" height="7" fill="#000"/><rect x="1351" y="56" width="1" height="11" fill="#000"/><rect x="1350" y="59" width="3" height="7" fill="#000"/><rect x="1351" y="60" width="1" height="5" fill="#fff"/><rect x="1355" y="56" width="1" height="14" fill="#000"/><rect x="1354" y="58" width="3" height="2" fill="#000"/><rect x="1359" y="55" width="1" height="10" fill="#000"/><rect x="1358" y="59" width="3" height="1" fill="#000"/><rect x="1363" y="58" width="1" height="24" fill="#000"/><rect x="1362" y="59" width="3" height="18" fill="#000"/><rect x="1367" y="70" width="1" height="11" fill="#000"/><rect x="1366" y="71" width="3" height="6" fill="#000"/><rect x="1367" y="72" width="1" height="4" fill="#fff"/><rect x="1371" y="59" width="1" height="13" fill="#000"/><rect x="1370" y="60" width="3" height="12" fill="#000"/><rect x="1371" y="61" width="1" height="10" fill="#fff"/><rect x="1375" y="57" width="1" height="6" fill="#000"/><rect x="1374" y="59" width="3" height="3" fill="#000"/><rect x="1379" y="46" width="1" height="21" fill="#000"/><rect x="1378" y="54" width="3" height="6" fill="#000"/><rect x="1379" y="55" width="1" height="4" fill="#fff"/><rect x="1383" y="45" width="1" height="10" fill="#000"/><rect x="1382" y="45" width="3" height="10" fill="#000"/><rect x="1383" y="46" width="1" height="8" fill="#fff"/><rect x="1387" y="43" width="1" height="8" fill="#000"/><rect x="1386" y="48" width="3" height="3" fill="#000"/><rect x="1391" y="47" width="1" height="17" fill="#000"/><rect x="1390" y="48" width="3" height="12" fill="#000"/><rect x="1395" y="51" width="1" height="25" fill="#000"/><rect x="1394" y="57" width="3" height="3" fill="#000"/><rect x="1395" y="58" width="1" height="1" fill="#fff"/><rect x="1399" y="41" width="1" height="15" fill="#000"/><rect x="1398" y="45" width="3" height="11" fill="#000"/><rect x="1399" y="46" width="1" height="9" fill="#fff"/><rect x="1403" y="42" width="1" height="24" fill="#000"/><rect x="1402" y="44" width="3" height="17" fill="#000"/><rect x="1407" y="59" width="1" height="12" fill="#000"/><rect x="1406" y="61" width="3" height="9" fill="#000"/><rect x="1411" y="54" width="1" height="16" fill="#000"/><rect x="1410" y="56" width="3" height="14" fill="#000"/><rect x="1411" y="57" width="1" height="12" fill="#fff"/><rect x="1415" y="50" width="1" height="10" fill="#000"/><rect x="1414" y="52" width="3" height="5" fill="#000"/><rect x="1415" y="53" width="1" height="3" fill="#fff"/><rect x="1419" y="50" width="1" height="6" fill="#000"/><rect x="1418" y="53" width="3" height="1" fill="#000"/><rect x="1423" y="49" width="1" height="7" fill="#000"/><rect x="1422" y="52" width="3" height="2" fill="#000"/><rect x="1427" y="50" width="1" height="14" fill="#000"/><rect x="1426" y="52" width="3" height="12" fill="#000"/><rect x="1431" y="59" width="1" height="11" fill="#000"/><rect x="1430" y="60" width="3" height="3" fill="#000"/><rect x="1431" y="61" width="1" height="1" fill="#fff"/><rect x="1435" y="59" width="1" height="7" fill="#000"/><rect x="1434" y="60" width="3" height="1" fill="#000"/><rect x="1439" y="60" width="1" height="21" fill="#000"/><rect x="1438" y="61" width="3" height="15" fill="#000"/><rect x="1443" y="74" width="1" height="18" fill="#000"/><rect x="1442" y="76" width="3" height="1" fill="#000"/><rect x="1447" y="74" width="1" height="36" fill="#000"/><rect x="1446" y="76" width="3" height="24" fill="#000"/><rect x="1451" y="85" width="1" height="44" fill="#000"/><rect x="1450" y="89" width="3" height="13" fill="#000"/><rect x="1451" y="90" width="1" height="11" fill="#fff"/><rect x="1455" y="86" width="1" height="20" fill="#000"/><rect x="1454" y="89" width="3" height="13" fill="#000"/><rect x="1459" y="101" width="1" height="31" fill="#000"/><rect x="1458" y="102" width="3" height="21" fill="#000"/><rect x="1463" y="98" width="1" height="29" fill="#000"/><rect x="1462" y="99" width="3" height="23" fill="#000"/><rect x="1463" y="100" width="1" height="21" fill="#fff"/><rect x="1467" y="73" width="1" height="28" fill="#000"/><rect x="1466" y="74" width="3" height="26" fill="#000"/><rect x="1467" y="75" width="1" height="24" fill="#fff"/><rect x="1471" y="70" width="1" height="17" fill="#000"/><rect x="1470" y="74" width="3" height="10" fill="#000"/><rect x="1475" y="82" width="1" height="23" fill="#000"/><rect x="1474" y="83" width="3" height="21" fill="#000"/><rect x="1479" y="100" width="1" height="51" fill="#000"/><rect x="1478" y="103" width="3" height="47" fill="#000"/><rect x="1483" y="128" width="1" height="27" fill="#000"/><rect x="1482" y="135" width="3" height="15" fill="#000"/><rect x="1483" y="136" width="1" height="13" fill="#fff"/><rect x="1487" y="118" width="1" height="18" fill="#000"/><rect x="1486" y="122" width="3" height="12" fill="#000"/><rect x="1487" y="123" width="1" height="10" fill="#fff"/><rect x="1491" y="110" width="1" height="39" fill="#000"/><rect x="1490" y="122" width="3" height="26" fill="#000"/><rect x="1495" y="128" width="1" height="21" fill="#000"/><rect x="1494" y="134" width="3" height="14" fill="#000"/><rect x="1495" y="135" width="1" height="12" fill="#fff"/><rect x="1499" y="122" width="1" height="32" fill="#000"/><rect x="1498" y="125" width="3" height="28" fill="#000"/><rect x="1499" y="126" width="1" height="26" fill="#fff"/>
<rect x="1504.5" y="152.5" width="4" height="4" fill="#fff" stroke="#f00" stroke-width="1"/>
<rect x="3.5" y="152.5" width="4" height="4" fill="#fff" stroke="#f00" stroke-width="1"/>
</g>
<g shape-rendering="crispEdges">
<path d="M3.5 733v14M7.5 733v7M11.5 733v4M15.5 731v3M19.5 722v12M23.5 715v19M27.5 706v28M31.5 698v36M35.5 691v43M39.5 685v49M43.5 686v48M47.5 686v48M51.5 687v47M55.5 687v47M59.5 679v55M63.5 674v60M67.5 671v63M71.5 665v69M75.5 659v75M79.5 652v82M83.5 651v83M87.5 651v83M91.5 648v86M95.5 647v87M99.5 649v85M103.5 649v85M107.5 648v86M111.5 649v85M115.5 640v94M119.5 631v103M123.5 622v112M127.5 593v141M131.5 574v160M135.5 568v166M139.5 576v158M143.5 587v147M147.5 589v145M151.5 592v142M155.5 592v142M159.5 595v139M163.5 601v133M167.5 604v130M171.5 601v133M175.5 599v135M179.5 598v136M183.5 600v134M187.5 606v128M191.5 613v121M195.5 621v113M199.5 629v105M203.5 639v95M207.5 648v86M211.5 658v76M215.5 664v70M219.5 666v68M223.5 669v65M227.5 672v62M231.5 670v64M235.5 665v69M239.5 658v76M243.5 651v83M247.5 642v92M251.5 638v96M255.5 632v102M259.5 638v96M263.5 640v94M267.5 644v90M271.5 648v86M275.5 651v83M279.5 656v78M283.5 666v68M287.5 673v61M291.5 680v54M295.5 683v51M299.5 688v46M303.5 700v34M307.5 709v25M311.5 718v16M315.5 727v7M319.5 733v1M323.5 733v4M327.5 733v9M331.5 733v13M335.5 733v14M339.5 733v12M343.5 733v8M347.5 733v5M351.5 733v2M355.5 731v3M359.5 727v7M363.5 720v14M367.5 715v19M371.5 710v24M375.5 707v27M379.5 698v36M383.5 691v43M387.5 683v51M391.5 673v61M395.5 664v70M399.5 656v78M403.5 649v85M407.5 654v80M411.5 659v75M415.5 665v69M419.5 667v67M423.5 671v63M427.5 672v62M431.5 669v65M435.5 668v66M439.5 669v65M443.5 671v63M447.5 672v62M451.5 670v64M455.5 668v66M459.5 664v70M463.5 662v72M467.5 660v74M471.5 664v70M475.5 673v61M479.5 676v58M483.5 682v52M487.5 689v45M491.5 694v40M495.5 690v44M499.5 687v47M503.5 684v50M507.5 679v55M511.5 677v57M515.5 676v58M519.5 680v54M523.5 683v51M527.5 686v48M531.5 689v45M535.5 691v43M539.5 692v42M543.5 694v40M547.5 696v38M551.5 698v36M555.5 700v34M559.5 703v31M563.5 708v26M567.5 712v22M571.5 714v20M575.5 715v19M579.5 717v17M583.5 717v17M587.5 715v19M591.5 719v15M595.5 728v6M599.5 733v5M603.5 733v13M607.5 733v20M611.5 733v26M615.5 733v27M619.5 733v27M623.5 733v29M627.5 733v30M631.5 733v27M635.5 733v25M639.5 733v20M643.5 733v11M647.5 733v2M651.5 727v7M655.5 726v8M659.5 728v6M663.5 729v5M667.5 726v8M671.5 724v10M675.5 726v8M679.5 728v6M683.5 728v6M687.5 731v3M691.5 732v2M695.5 733v5M699.5 733v9M703.5 733v12M707.5 733v13M711.5 733v4M715.5 733v2M719.5 730v4M723.5 727v7M727.5 725v9M731.5 726v8M735.5 728v6M739.5 729v5M743.5 726v8M747.5 724v10M751.5 722v12M755.5 720v14M759.5 722v12M763.5 723v11M767.5 723v11M771.5 723v11M775.5 722v12M779.5 722v12M783.5 722v12M787.5 722v12M791.5 722v12M795.5 722v12M799.5 722v12M803.5 722v12M807.5 723v11M811.5 724v10M815.5 724v10M819.5 725v9M823.5 727v7M827.5 728v6M831.5 733v1M835.5 733v4M839.5 733v12M843.5 733v21M847.5 733v24M851.5 733v23M855.5 733v24M859.5 733v27M863.5 733v28M867.5 733v26M871.5 733v25M875.5 733v24M879.5 733v23M883.5 733v22M887.5 733v20M891.5 733v16M895.5 733v12M899.5 733v8M903.5 733v4M907.5 733v3M911.5 733v1M915.5 731v3M919.5 731v3M923.5 731v3M927.5 728v6M931.5 724v10M935.5 719v15M939.5 715v19M943.5 711v23M947.5 706v28M951.5 695v39M955.5 676v58M959.5 659v75M963.5 646v88M967.5 640v94M971.5 638v96M975.5 640v94M979.5 641v93M983.5 642v92M987.5 644v90M991.5 646v88M995.5 649v85M999.5 653v81M1003.5 656v78M1007.5 661v73M1011.5 665v69M1015.5 668v66M1019.5 671v63M1023.5 683v51M1027.5 691v43M1031.5 694v40M1035.5 696v38M1039.5 708v26M1043.5 716v18M1047.5 723v11M1051.5 729v5M1055.5 733v2M1059.5 733v8M1063.5 733v9M1067.5 733v12M1071.5 733v14M1075.5 733v17M1079.5 733v19M1083.5 733v17M1087.5 733v7M1091.5 731v3M1095.5 722v12M1099.5 718v16M1103.5 715v19M1107.5 711v23M1111.5 706v28M1115.5 702v32M1119.5 689v45M1123.5 675v59M1127.5 661v73M1131.5 652v82M1135.5 645v89M1139.5 636v98M1143.5 634v100M1147.5 636v98M1151.5 639v95M1155.5 644v90M1159.5 648v86M1163.5 653v81M1167.5 654v80M1171.5 655v79M1175.5 656v78M1179.5 659v75M1183.5 662v72M1187.5 666v68M1191.5 666v68M1195.5 662v72M1199.5 659v75M1203.5 658v76M1207.5 657v77M1211.5 659v75M1215.5 649v85M1219.5 647v87M1223.5 639v95M1227.5 635v99M1231.5 632v102M1235.5 633v101M1239.5 641v93M1243.5 653v81M1247.5 662v72M1251.5 671v63M1255.5 683v51M1259.5 694v40M1263.5 703v31M1267.5 712v22M1271.5 721v13M1275.5 724v10M1279.5 726v8M1283.5 723v11M1287.5 716v18M1291.5 708v26M1295.5 705v29M1299.5 702v32M1303.5 698v36M1307.5 702v32M1311.5 706v28M1315.5 709v25M1319.5 710v24M1323.5 709v25M1327.5 708v26M1331.5 705v29M1335.5 703v31M1339.5 705v29M1343.5 706v28M1347.5 710v24M1351.5 711v23M1355.5 712v22M1359.5 714v20M1363.5 722v12M1367.5 725v9M1371.5 725v9M1375.5 724v10M1379.5 722v12M1383.5 718v16M1387.5 716v18M1391.5 717v17M1395.5 718v16M1399.5 715v19M1403.5 718v16M1407.5 723v11M1411.5 723v11M1415.5 722v12M1419.5 721v13M1423.5 722v12M1427.5 724v10M1431.5 725v9M1435.5 727v7M1439.5 730v4M1443.5 733v6M1447.5 733v17M1451.5 733v24M1455.5 733v32M1459.5 733v45M1463.5 733v47M1467.5 733v42M1471.5 733v39M1475.5 733v40M1479.5 733v58M1483.5 733v67M1487.5 733v70M1491.5 733v78M1495.5 733v80M1499.5 733v78" fill="none" stroke="#00008b" stroke-width="1"/>
<path d="M93 647.5h3M1218 647.5h2M534 691.5h3M910 733.5h2M418 667.5h2M1013 667.5h2M151 592.5h5M1142 634.5h2M1460 778.5h2M651 727.5h2M656 727.5h2M665 727.5h2M676 727.5h2M732 727.5h2M741 727.5h2M822 727.5h3M1434 727.5h2M1078 751.5h2M321 735.5h2M349 735.5h2M712 735.5h2M833 735.5h2M905 735.5h3M611 758.5h2M632 758.5h2M857 758.5h2M866 758.5h3M91 648.5h2M96 648.5h2M105 648.5h4M993 648.5h2M1216 648.5h2M41 686.5h8M146 589.5h2M687 731.5h2M914 731.5h10M1492 811.5h2M1496 811.5h2M431 669.5h2M437 669.5h3M452 669.5h2M661 729.5h3M737 729.5h3M925 729.5h2M1437 729.5h2M1349 711.5h4M464 661.5h2M1181 661.5h2M353 732.5h2M689 732.5h3M912 732.5h2M670 724.5h2M746 724.5h2M809 724.5h8M1281 724.5h2M1365 724.5h2M1373 724.5h3M1426 724.5h3M714 734.5h2M908 734.5h2M653 726.5h3M674 726.5h2M724 726.5h2M729 726.5h3M820 726.5h2M1278 726.5h2M1432 726.5h2M1140 635.5h2M1144 635.5h2M986 644.5h2M548 697.5h2M466 660.5h2M1197 660.5h2M260 639.5h2M968 639.5h2M972 639.5h2M748 723.5h2M761 723.5h12M805 723.5h4M1273 723.5h2M1376 723.5h2M1407 723.5h6M1424 723.5h2M221 668.5h2M433 668.5h4M454 668.5h2M544 695.5h2M1032 695.5h2M570 714.5h3M1358 714.5h2M262 640.5h2M974 640.5h3M1199 659.5h2M1210 659.5h2M554 700.5h2M1073 748.5h2M622 761.5h3M884 753.5h2M477 675.5h2M1332 704.5h2M1336 704.5h2M1163 653.5h2M513 676.5h3M89 649.5h2M98 649.5h7M109 649.5h3M81 651.5h7M216 665.5h2M331 745.5h2M336 745.5h2M705 745.5h3M1068 745.5h2M510 677.5h3M658 728.5h3M678 728.5h6M721 728.5h2M734 728.5h3M825 728.5h3M578 717.5h6M1384 717.5h2M1389 717.5h4M1401 717.5h2M9 737.5h2M1177 658.5h2M1201 658.5h4M1208 658.5h2M568 713.5h2M1356 713.5h2M668 725.5h2M672 725.5h2M726 725.5h3M744 725.5h2M817 725.5h3M1276 725.5h2M1367 725.5h6M1429 725.5h3M1315 709.5h2M1321 709.5h4M540 693.5h2M1029 693.5h2M557 702.5h2M39 685.5h2M501 685.5h2M525 685.5h2M218 666.5h2M416 666.5h2M1187 666.5h5M172 600.5h2M182 600.5h2M1393 718.5h3M546 696.5h2M1034 696.5h2M1338 705.5h3M981 642.5h3M1297 703.5h2M1334 703.5h2M65 672.5h2M425 672.5h3M445 672.5h3M532 690.5h2M750 722.5h2M758 722.5h3M773 722.5h32M1378 722.5h2M1413 722.5h4M1421 722.5h3M613 759.5h7M859 759.5h2M864 759.5h2M333 746.5h3M1070 746.5h2M903 736.5h2M1001 655.5h2M1169 655.5h4M576 716.5h2M584 716.5h2M1101 716.5h2M1386 716.5h3M1397 716.5h2M977 641.5h4M345 738.5h2M462 662.5h2M970 638.5h2M1149 638.5h2M1173 656.5h3M845 755.5h2M849 755.5h4M877 755.5h4M550 698.5h2M847 756.5h2M853 756.5h3M873 756.5h4M338 744.5h2M703 744.5h2M1353 712.5h3M144 588.5h2M537 692.5h3M552 699.5h2M225 671.5h2M228 671.5h2M423 671.5h2M442 671.5h3M448 671.5h2M497 688.5h2M529 688.5h2M373 708.5h2M1313 708.5h2M1325 708.5h3M573 715.5h3M586 715.5h2M754 720.5h2M177 598.5h3M620 760.5h2M629 760.5h2M861 760.5h3M460 663.5h2M293 682.5h2M521 682.5h2M1076 750.5h2M1080 750.5h2M984 643.5h2M174 599.5h3M180 599.5h2M685 730.5h2M273 650.5h2M169 602.5h2M1317 710.5h4M1347 710.5h2M79 652.5h2M1205 657.5h3M881 754.5h3M1059 740.5h2M752 721.5h2M756 721.5h2M1417 721.5h4M1061 741.5h3M149 591.5h2M1146 636.5h2M988 645.5h2M1082 749.5h2M1231 632.5h2M508 678.5h2M1498 810.5h2M542 694.5h2M230 670.5h2M429 670.5h2M440 670.5h2M450 670.5h2M1017 670.5h2M1165 654.5h4M886 752.5h2M701 743.5h2M1065 743.5h2M1293 706.5h2M1329 706.5h2M1341 706.5h3M165 603.5h2M49 687.5h7M157 594.5h2M990 646.5h2M634 757.5h2M869 757.5h4M1229 633.5h2M1233 633.5h3M1469 772.5h2M1473 772.5h3M625 762.5h3M1485 801.5h2M1471 771.5h2M1462 779.5h2M1494 812.5h2M270.5 647v1M489.5 691v2M716.5 733v1M1459.5 776v2M284.5 667v2M142.5 583v3M523.5 683v1M118.5 633v2M639.5 751v2M524.5 684v1M1133.5 648v2M1091.5 730v3M829.5 730v2M68.5 669v2M370.5 711v1M830.5 732v1M351.5 734v1M708.5 742v2M1155.5 644v1M504.5 683v1M1120.5 684v4M302.5 696v3M1228.5 634v1M723.5 727v1M212.5 659v2M1477.5 779v5M223.5 669v1M1223.5 639v2M309.5 713v2M604.5 746v2M134.5 569v2M1246.5 659v2M254.5 633v2M378.5 700v2M1123.5 674v3M605.5 748v2M194.5 618v2M608.5 753v2M1252.5 673v3M277.5 653v2M1053.5 731v2M1253.5 676v3M519.5 680v1M1215.5 649v2M1132.5 650v2M1192.5 665v1M1256.5 685v3M589.5 717v1M836.5 737v2M23.5 714v2M131.5 574v3M1020.5 673v3M369.5 712v2M113.5 644v2M36.5 689v2M1262.5 700v2M1128.5 658v2M1118.5 691v3M1263.5 702v3M1027.5 690v2M1024.5 684v2M1403.5 718v1M32.5 696v2M1038.5 704v3M1270.5 718v2M1222.5 641v2M932.5 723v1M1455.5 763v3M963.5 646v2M1480.5 792v2M1083.5 748v1M1095.5 722v2M357.5 729v1M323.5 736v1M1436.5 728v1M125.5 604v8M1214.5 651v2M960.5 655v3M938.5 716v1M1153.5 641v2M130.5 577v5M832.5 734v1M888.5 751v1M8.5 738v1M78.5 653v2M935.5 719v1M35.5 691v1M1476.5 775v4M1468.5 773v1M214.5 662v2M1126.5 663v4M1117.5 694v4M1138.5 638v2M1244.5 655v2M930.5 725v1M562.5 707v1M74.5 660v2M31.5 698v2M955.5 674v5M196.5 622v2M610.5 756v2M279.5 656v2M193.5 616v2M1251.5 670v3M137.5 571v2M1094.5 724v2M1114.5 703v1M415.5 665v1M895.5 744v1M15.5 730v2M942.5 712v1M203.5 638v3M1109.5 708v2M1121.5 681v3M286.5 671v2M1019.5 671v2M300.5 690v3M1261.5 698v2M124.5 612v7M1307.5 702v1M207.5 647v3M842.5 750v2M1026.5 688v2M1404.5 719v1M304.5 702v2M344.5 739v1M1456.5 766v3M307.5 708v3M1268.5 714v2M1271.5 720v2M1137.5 640v2M599.5 736v2M1405.5 720v2M1295.5 705v1M1280.5 725v1M479.5 676v1M1482.5 796v2M73.5 662v1M30.5 700v2M1479.5 788v4M311.5 717v3M1290.5 710v2M483.5 682v1M314.5 724v2M325.5 738v2M1048.5 724v2M640.5 749v2M1286.5 717v2M1442.5 735v2M1239.5 640v3M693.5 734v2M1088.5 737v2M368.5 714v1M1240.5 643v3M1449.5 752v2M958.5 662v4M1446.5 745v3M128.5 586v5M363.5 720v1M1400.5 716v1M1136.5 642v2M266.5 643v1M391.5 672v3M135.5 568v1M136.5 569v2M160.5 596v2M161.5 598v1M375.5 706v2M88.5 650v1M288.5 674v2M25.5 710v2M247.5 642v2M285.5 669v2M208.5 650v2M992.5 647v1M299.5 688v2M209.5 652v3M114.5 642v2M1227.5 635v1M844.5 754v1M305.5 704v2M647.5 734v2M1309.5 704v1M1087.5 739v2M597.5 732v2M20.5 720v2M957.5 666v4M948.5 702v3M362.5 721v2M122.5 624v2M312.5 720v2M719.5 730v1M313.5 722v2M420.5 668v1M485.5 685v2M1331.5 705v1M390.5 675v2M402.5 650v2M1049.5 726v1M327.5 741v1M1050.5 727v2M527.5 686v1M894.5 745v1M1441.5 733v2M1184.5 663v1M1259.5 693v3M246.5 644v2M840.5 746v2M1447.5 748v2M1211.5 658v1M1448.5 750v2M646.5 736v2M1035.5 697v1M1361.5 717v2M242.5 652v2M19.5 722v2M121.5 626v2M405.5 651v2M901.5 738v1M947.5 705v2M496.5 689v1M268.5 645v1M1042.5 713v2M238.5 659v2M409.5 656v2M126.5 597v7M200.5 631v2M1122.5 677v4M163.5 601v1M1491.5 809v2M283.5 665v2M141.5 581v2M1383.5 718v1M1179.5 659v1M397.5 660v2M1180.5 660v1M62.5 675v1M7.5 739v1M129.5 582v4M951.5 693v4M1154.5 643v1M468.5 661v1M1241.5 646v3M1031.5 694v1M58.5 681v2M3.5 746v1M241.5 654v2M18.5 724v2M1296.5 704v1M1248.5 664v2M120.5 628v2M1113.5 704v1M1487.5 802v1M1051.5 729v1M607.5 752v1M237.5 661v2M69.5 668v1M14.5 732v1M1052.5 730v1M27.5 706v2M709.5 740v2M740.5 728v1M838.5 741v2M233.5 667v2M588.5 716v1M1258.5 690v3M1090.5 733v2M1176.5 657v1M1303.5 698v1M839.5 743v3M1160.5 649v1M1264.5 705v2M592.5 721v2M61.5 676v2M698.5 740v1M1265.5 707v2M210.5 655v2M1086.5 741v2M1360.5 715v2M379.5 698v2M967.5 640v1M1040.5 709v2M1125.5 667v3M57.5 683v2M1457.5 769v4M340.5 743v1M236.5 663v2M1236.5 634v2M1152.5 640v1M367.5 715v1M123.5 619v5M471.5 664v2M1124.5 670v4M56.5 685v2M195.5 620v2M609.5 755v1M924.5 730v1M198.5 626v2M278.5 655v1M251.5 638v1M281.5 660v3M1328.5 707v1M168.5 603v1M139.5 575v3M355.5 731v1M387.5 682v3M205.5 643v2M399.5 656v2M953.5 684v4M202.5 636v2M837.5 739v2M936.5 718v1M1021.5 676v3M590.5 718v1M1305.5 700v1M591.5 719v2M1306.5 701v1M1466.5 775v1M1028.5 692v1M1100.5 717v1M601.5 740v2M306.5 706v2M598.5 734v2M643.5 742v3M1481.5 794v2M943.5 711v1M1484.5 800v1M893.5 746v1M952.5 688v5M1107.5 711v1M398.5 658v2M995.5 649v1M1444.5 740v3M692.5 733v1M684.5 729v1M1127.5 660v3M631.5 759v1M382.5 692v2M1098.5 719v1M394.5 666v2M556.5 701v1M342.5 741v1M900.5 739v1M276.5 652v1M495.5 690v1M1458.5 773v3M642.5 745v2M280.5 658v2M138.5 573v2M330.5 744v1M1056.5 735v2M117.5 635v2M959.5 658v4M301.5 693v3M503.5 684v1M393.5 668v2M185.5 603v1M1272.5 722v1M186.5 604v2M600.5 738v2M189.5 609v2M271.5 648v1M1483.5 798v2M315.5 726v2M457.5 666v1M26.5 708v2M167.5 604v1M116.5 637v2M148.5 590v1M232.5 669v1M1089.5 735v2M1183.5 662v1M1156.5 645v1M1443.5 737v3M1302.5 699v1M1157.5 646v1M348.5 736v1M950.5 697v3M720.5 729v1M966.5 641v2M1037.5 701v3M403.5 649v1M1221.5 643v2M1044.5 717v2M962.5 648v3M743.5 726v1M132.5 572v2M252.5 636v2M162.5 599v2M371.5 710v1M143.5 586v2M356.5 730v1M38.5 686v2M21.5 718v2M34.5 692v2M187.5 606v1M1478.5 784v4M127.5 591v6M188.5 607v2M1467.5 774v1M481.5 679v1M929.5 726v1M1196.5 661v1M482.5 680v2M1220.5 645v2M250.5 639v1M961.5 651v4M1072.5 747v1M1381.5 720v1M1158.5 647v1M696.5 738v1M1159.5 648v1M1451.5 756v1M594.5 725v2M956.5 670v4M1452.5 757v2M1036.5 698v3M1362.5 719v2M1267.5 711v3M1099.5 718v1M1396.5 717v1M428.5 671v1M1111.5 706v1M892.5 747v1M1289.5 712v2M287.5 673v1M164.5 602v1M1106.5 712v1M1238.5 638v2M1285.5 719v2M59.5 679v2M1139.5 636v2M469.5 662v1M341.5 742v1M899.5 740v1M470.5 663v1M494.5 691v1M473.5 668v2M1135.5 644v2M484.5 683v2M197.5 624v2M710.5 738v2M997.5 651v1M1288.5 714v2M11.5 736v1M828.5 729v1M998.5 652v1M204.5 641v2M650.5 728v2M1161.5 650v2M1284.5 721v2M593.5 723v2M559.5 703v1M308.5 711v2M407.5 654v1M603.5 744v2M1041.5 711v2M361.5 723v2M408.5 655v1M954.5 679v5M1134.5 646v2M401.5 652v2M115.5 639v3M1004.5 657v1M1310.5 705v1M245.5 646v2M1224.5 638v1M22.5 716v2M1311.5 706v1M1283.5 723v1M255.5 632v1M1085.5 743v3M472.5 666v2M1275.5 724v1M1247.5 661v3M1489.5 805v2M664.5 728v1M328.5 742v1M199.5 628v3M1054.5 733v1M1185.5 664v1M1055.5 734v1M999.5 653v1M1058.5 738v2M1000.5 654v1M1162.5 652v1M6.5 740v2M33.5 694v2M213.5 661v1M933.5 721v2M561.5 705v2M1084.5 746v2M602.5 742v2M17.5 726v2M928.5 727v1M1116.5 698v3M898.5 741v1M493.5 692v1M414.5 663v2M13.5 733v2M1112.5 705v1M1006.5 660v1M1380.5 721v1M386.5 685v2M856.5 757v1M1445.5 743v2M1260.5 696v2M1312.5 707v1M60.5 678v1M1115.5 701v2M71.5 665v1M16.5 728v2M458.5 665v1M1110.5 707v1M1075.5 749v1M1057.5 737v1M638.5 753v1M711.5 736v2M385.5 687v2M1119.5 688v3M211.5 657v2M707.5 744v1M366.5 716v1M1345.5 708v1M381.5 694v2M499.5 687v1M718.5 731v1M563.5 708v1M190.5 611v2M389.5 677v3M133.5 571v1M412.5 660v2M377.5 702v2M641.5 747v2M70.5 666v2M372.5 709v1M1255.5 682v3M1131.5 652v2M1008.5 662v1M637.5 754v2M506.5 680v1M112.5 646v2M1023.5 682v2M694.5 736v1M695.5 737v1M1225.5 637v1M1450.5 754v2M596.5 730v2M1269.5 716v2M1465.5 776v2M927.5 728v1M376.5 704v2M1194.5 663v1M1382.5 719v1M289.5 676v2M1213.5 653v3M352.5 733v1M1475.5 773v2M111.5 648v1M77.5 655v2M1243.5 652v3M949.5 700v2M191.5 613v1M192.5 614v2M1097.5 720v1M565.5 710v1M475.5 672v2M267.5 644v1M359.5 727v1M1250.5 668v2M1464.5 778v1M317.5 730v1M256.5 633v2M486.5 687v2M318.5 731v2M940.5 714v1M1093.5 726v2M295.5 683v1M1254.5 679v3M890.5 749v1M996.5 650v1M296.5 684v1M841.5 748v2M1022.5 679v3M76.5 657v2M897.5 742v1M406.5 653v1M492.5 693v1M29.5 702v2M1043.5 715v2M1046.5 721v2M421.5 669v1M944.5 710v1M72.5 663v2M516.5 677v1M67.5 671v1M12.5 735v1M1092.5 728v2M291.5 680v1M1003.5 656v1M1308.5 703v1M1301.5 700v1M4.5 744v2M1242.5 649v3M965.5 643v1M1249.5 666v2M487.5 689v1M258.5 636v2M269.5 646v1M488.5 690v1M28.5 704v2M201.5 633v3M1488.5 803v2M1064.5 742v1M234.5 666v1M24.5 712v2M365.5 717v2M1266.5 709v2M1364.5 723v1M717.5 732v1M964.5 644v2M1195.5 662v1M1439.5 730v1M249.5 640v1M1440.5 731v2M1130.5 654v2M1005.5 658v2M1237.5 636v2M649.5 730v2M934.5 720v1M364.5 719v1M645.5 738v2M946.5 707v1M1193.5 664v1M360.5 725v2M1490.5 807v2M282.5 663v2M388.5 680v2M140.5 578v3M400.5 654v2M941.5 713v1M1011.5 665v1M37.5 688v1M891.5 748v1M206.5 645v2M1129.5 656v2M396.5 662v2M697.5 739v1M1105.5 713v1M303.5 699v3M648.5 732v2M595.5 727v3M244.5 648v2M1344.5 707v1M1096.5 721v1M310.5 715v2M644.5 740v2M240.5 656v2M606.5 750v2M410.5 658v1M119.5 630v3M1291.5 708v2M411.5 659v1M945.5 708v2M1257.5 688v2M1103.5 715v1M1148.5 637v1M347.5 737v1M395.5 664v2M1212.5 656v2M500.5 686v1M75.5 659v1M1025.5 686v2M5.5 742v2M184.5 601v2M243.5 650v2M1039.5 707v2M239.5 658v1M507.5 679v1M235.5 665v1M699.5 741v1M1300.5 701v1M700.5 742v1M215.5 664v1M1245.5 657v2M560.5 704v1M1346.5 709v1M265.5 642v1M518.5 679v1M413.5 662v1M316.5 728v2M843.5 752v2M1454.5 761v2M1406.5 722v1M480.5 677v2M272.5 649v1M253.5 635v1M1045.5 719v2M248.5 641v1M1067.5 744v1M831.5 733v1M290.5 678v2M224.5 670v1M404.5 650v1M520.5 681v1M159.5 595v1M1007.5 661v1M297.5 685v2M937.5 717v1M1104.5 714v1M384.5 689v2M220.5 667v1M902.5 737v1M1299.5 702v1M1453.5 759v2M380.5 696v2M392.5 670v2M1363.5 721v2M667.5 726v1M324.5 737v1M1047.5 723v1M63.5 674v1M1108.5 710v1M1015.5 668v1M505.5 681v2M636.5 756v1M1399.5 715v1M564.5 709v1M474.5 670v2M319.5 733v1M459.5 664v1M531.5 689v1M320.5 734v1M1009.5 663v1M298.5 687v1M1010.5 664v1M1151.5 639v1M171.5 601v1M326.5 740v1M358.5 728v1M156.5 593v1M939.5 715v1M1016.5 669v1M889.5 750v1M1304.5 699v1M1226.5 636v1M931.5 724v1M566.5 711v1M476.5 674v1M567.5 712v1M257.5 635v1M1292.5 707v1M490.5 693v1M896.5 743v1M491.5 694v1M1012.5 666v1M628.5 761v1M275.5 651v1M422.5 670v1M264.5 641v1M517.5 678v1M528.5 687v1M329.5 743v1M456.5 667v1M292.5 681v1M1186.5 665v1M64.5 673v1M835.5 736v1M1287.5 716v1M383.5 691v1M227.5 672v1M343.5 740v1M259.5 638v1" fill="none" stroke="#c0c0c0" stroke-width="1"/>
<path d="M505 683.5h4M521 683.5h3M537 683.5h4M233 660.5h2M248 660.5h2M1197 660.5h8M1209 660.5h4M750 726.5h3M833 726.5h3M940 726.5h2M1192 658.5h2M1216 658.5h2M702 732.5h2M734 732.5h3M928 732.5h2M365 734.5h2M706 734.5h2M729 734.5h3M845 734.5h2M925 734.5h2M1105 734.5h2M1376 717.5h2M553 691.5h2M548 688.5h2M1385 720.5h12M1421 720.5h8M102 651.5h3M1013 651.5h2M1321 705.5h12M250 659.5h2M1194 659.5h3M1213 659.5h3M564 698.5h2M489 672.5h2M576 706.5h2M1317 706.5h4M1333 706.5h8M105 650.5h4M904 748.5h2M588 711.5h2M1306 711.5h2M1364 711.5h2M270 643.5h10M991 643.5h2M997 643.5h3M1161 643.5h8M1237 643.5h4M1244 643.5h2M700 731.5h2M737 731.5h3M930 731.5h2M85 664.5h2M436 664.5h2M486 670.5h2M708 735.5h2M725 735.5h4M441 667.5h2M465 667.5h16M237 662.5h4M244 662.5h2M419 662.5h14M909 745.5h2M582 709.5h3M1310 709.5h2M1360 709.5h2M634 757.5h10M874 757.5h15M1429 721.5h4M360 737.5h2M921 737.5h2M1101 737.5h2M556 693.5h2M1374 716.5h2M753 725.5h12M829 725.5h4M942 725.5h2M1442 725.5h2M769 723.5h16M809 723.5h16M945 723.5h2M1437 723.5h3M1188 656.5h2M561 696.5h2M347 739.5h2M356 739.5h2M918 739.5h2M1098 739.5h2M578 707.5h2M1314 707.5h3M1341 707.5h12M868 754.5h2M993 642.5h4M1241 642.5h3M445 669.5h16M484 669.5h2M661 741.5h2M1082 741.5h2M1094 741.5h2M268 644.5h2M280 644.5h2M989 644.5h2M1000 644.5h2M1158 644.5h3M1169 644.5h3M1235 644.5h2M1246 644.5h2M69 679.5h2M765 724.5h4M825 724.5h4M1440 724.5h2M9 755.5h2M645 755.5h2M870 755.5h2M893 755.5h3M678 727.5h15M748 727.5h2M836 727.5h2M938 727.5h2M1445 727.5h2M696 729.5h2M742 729.5h3M934 729.5h2M362 736.5h2M710 736.5h15M241 663.5h3M417 663.5h2M433 663.5h3M116 646.5h2M264 646.5h2M1004 646.5h2M1173 646.5h2M1250 646.5h2M412 666.5h2M1186 655.5h2M1221 655.5h2M509 684.5h12M541 684.5h3M1378 718.5h3M580 708.5h2M1312 708.5h2M1353 708.5h7M573 704.5h2M73 676.5h2M704 733.5h2M732 733.5h2M112 648.5h2M1008 648.5h2M1229 648.5h2M676 728.5h2M693 728.5h3M745 728.5h3M838 728.5h2M936 728.5h2M594 714.5h2M1294 714.5h7M1370 714.5h2M414 665.5h2M438 665.5h2M93 657.5h2M1190 657.5h2M1218 657.5h2M443 668.5h2M461 668.5h4M481 668.5h3M632 756.5h2M872 756.5h2M889 756.5h4M913 742.5h2M1084 742.5h2M1092 742.5h2M1381 719.5h4M1397 719.5h24M673 730.5h2M698 730.5h2M740 730.5h2M932 730.5h2M545 686.5h2M590 712.5h2M1304 712.5h2M1366 712.5h2M235 661.5h2M246 661.5h2M1205 661.5h4M109 649.5h3M1010 649.5h2M1177 649.5h2M1086 743.5h6M1497 793.5h2M156 585.5h2M161 585.5h3M785 722.5h24M1433 722.5h4M349 740.5h7M916 740.5h2M1080 740.5h2M1096 740.5h2M657 744.5h2M493 675.5h2M861 749.5h2M901 750.5h2M100 652.5h2M1181 652.5h2M176 596.5h2M897 753.5h2M558 694.5h2M345 738.5h2M358 738.5h2M181 598.5h4M501 681.5h2M526 681.5h7M592 713.5h2M1292 713.5h2M1301 713.5h3M1368 713.5h2M906 747.5h2M550 689.5h2M65 682.5h2M503 682.5h2M524 682.5h2M533 682.5h4M188 600.5h2M197 607.5h2M1372 715.5h2M649 752.5h2M865 752.5h2M497 678.5h2M118 645.5h2M266 645.5h2M282 645.5h2M1002 645.5h2M1156 645.5h2M1233 645.5h2M1248 645.5h2M173 594.5h2M5 758.5h2M97 654.5h2M1184 654.5h2M178 597.5h3M585 710.5h3M1308 710.5h2M1362 710.5h2M114 647.5h2M1006 647.5h2M185 599.5h3M569 701.5h2M566 699.5h2M190 601.5h2M153 587.5h2M165 587.5h2M158 584.5h3M1052.5 701v2M310.5 683v2M340.5 733v1M1022.5 660v1M1283.5 704v1M1073.5 732v2M16.5 749v1M1257.5 652v2M210.5 623v2M1128.5 696v2M28.5 732v2M1140.5 670v2M1471.5 760v1M192.5 602v1M952.5 716v2M964.5 690v2M304.5 671v2M568.5 700v1M398.5 687v2M1268.5 674v2M99.5 653v1M307.5 677v2M1472.5 761v1M1111.5 728v1M32.5 724v2M300.5 665v2M59.5 688v1M227.5 653v1M1127.5 698v3M259.5 651v1M613.5 733v2M1139.5 672v3M1223.5 654v1M339.5 732v1M220.5 641v2M1033.5 673v2M228.5 654v1M1054.5 705v2M1062.5 717v2M1452.5 733v1M963.5 692v3M972.5 671v2M394.5 695v2M374.5 726v1M1015.5 652v1M205.5 616v1M40.5 709v2M213.5 628v2M856.5 744v1M1453.5 734v2M288.5 650v1M624.5 748v1M1058.5 711v2M867.5 753v1M217.5 635v2M1456.5 738v2M670.5 733v1M1279.5 697v2M23.5 742v1M1261.5 658v2M1072.5 731v1M1021.5 658v2M1470.5 759v1M145.5 597v2M299.5 664v1M168.5 589v1M36.5 716v2M971.5 673v3M1151.5 651v1M382.5 716v1M385.5 712v1M303.5 670v1M138.5 611v2M169.5 590v1M1143.5 664v2M27.5 734v2M440.5 666v1M984.5 650v1M406.5 672v2M987.5 646v1M1122.5 709v2M129.5 630v2M976.5 663v2M389.5 705v2M1134.5 683v2M11.5 754v1M1485.5 778v2M1032.5 672v1M377.5 722v2M216.5 633v2M967.5 682v3M1050.5 698v2M1282.5 702v2M947.5 722v1M598.5 717v1M209.5 622v1M1126.5 701v2M63.5 684v1M1138.5 675v2M844.5 733v1M1278.5 695v2M1118.5 716v2M1460.5 744v2M150.5 590v1M1275.5 689v2M1227.5 650v1M605.5 725v1M1260.5 656v2M1154.5 647v1M254.5 656v1M51.5 696v1M1131.5 689v3M31.5 726v2M1289.5 710v1M306.5 675v2M20.5 745v1M1496.5 792v1M630.5 754v1M133.5 621v2M369.5 731v1M393.5 697v2M1499.5 794v1M90.5 660v1M499.5 679v1M560.5 695v1M631.5 755v1M1114.5 723v2M1117.5 718v2M500.5 680v1M665.5 738v1M612.5 732v1M409.5 669v1M552.5 690v1M654.5 747v1M863.5 750v1M18.5 747v1M1267.5 671v3M1036.5 677v2M1057.5 710v1M1484.5 777v1M597.5 716v1M212.5 626v2M1252.5 647v1M215.5 632v1M231.5 658v1M144.5 599v2M1281.5 701v1M982.5 652v2M1455.5 737v1M121.5 643v1M43.5 705v1M78.5 672v1M1053.5 703v2M1061.5 716v1M622.5 745v2M164.5 586v1M1253.5 648v1M67.5 681v1M208.5 620v2M35.5 718v2M372.5 728v1M291.5 654v1M1459.5 743v1M137.5 613v2M26.5 736v2M305.5 673v2M1075.5 735v1M668.5 735v1M1024.5 662v1M261.5 649v1M1473.5 762v2M128.5 632v2M388.5 707v2M962.5 695v2M302.5 668v2M194.5 604v1M1474.5 764v1M850.5 738v1M1447.5 728v1M1034.5 675v1M1125.5 703v2M851.5 739v1M1448.5 729v1M1137.5 677v2M1172.5 645v1M903.5 749v1M320.5 702v2M124.5 639v2M1488.5 782v2M1035.5 676v1M230.5 657v1M81.5 668v2M1056.5 708v2M127.5 634v2M1064.5 720v2M970.5 676v2M284.5 646v1M15.5 750v1M544.5 685v1M1016.5 653v1M615.5 736v1M1150.5 652v2M1277.5 693v2M911.5 744v1M30.5 728v2M1142.5 666v2M1017.5 654v1M923.5 736v1M1458.5 741v2M1495.5 791v1M495.5 676v1M132.5 623v2M175.5 595v1M193.5 603v1M1121.5 711v2M858.5 746v1M1133.5 685v2M1023.5 661v1M1113.5 725v1M496.5 677v1M301.5 667v1M1274.5 687v2M58.5 689v1M949.5 720v1M376.5 724v1M1266.5 669v2M1120.5 713v2M1038.5 680v2M152.5 588v1M672.5 731v1M256.5 654v1M37.5 714v2M319.5 700v2M327.5 714v1M1060.5 714v2M46.5 701v1M229.5 655v2M1042.5 686v2M22.5 743v1M1063.5 719v1M961.5 697v3M915.5 741v1M392.5 699v2M1263.5 662v3M147.5 594v1M1276.5 691v2M341.5 734v1M1284.5 705v1M1153.5 648v2M384.5 713v2M293.5 656v2M927.5 733v1M1116.5 720v2M625.5 749v1M1462.5 747v2M364.5 735v1M1285.5 706v1M294.5 658v1M626.5 750v1M1148.5 655v2M379.5 720v1M607.5 727v1M131.5 625v3M1476.5 766v2M143.5 601v2M981.5 654v1M123.5 641v1M80.5 670v1M1012.5 650v1M330.5 719v2M170.5 591v1M614.5 735v1M136.5 615v2M1132.5 687v2M491.5 673v1M1037.5 679v1M326.5 712v2M1144.5 662v2M334.5 725v2M1066.5 723v2M1183.5 653v1M956.5 709v2M134.5 619v2M323.5 707v1M965.5 687v3M53.5 694v1M977.5 661v2M1487.5 781v1M1067.5 725v1M402.5 679v2M599.5 718v1M1457.5 740v1M25.5 738v2M411.5 667v1M316.5 694v2M371.5 729v1M92.5 658v1M13.5 752v1M600.5 719v1M1255.5 650v1M1273.5 685v2M1461.5 746v1M667.5 736v1M656.5 745v1M606.5 726v1M126.5 636v2M647.5 754v1M1290.5 711v1M1124.5 705v2M1475.5 765v1M1136.5 679v2M1291.5 712v1M651.5 751v1M45.5 702v2M1486.5 780v1M969.5 678v2M329.5 717v2M391.5 701v2M199.5 608v1M1112.5 726v2M1265.5 667v2M864.5 751v1M1041.5 685v1M322.5 705v2M1490.5 785v2M1254.5 649v1M333.5 724v1M853.5 741v1M1450.5 731v1M60.5 687v1M200.5 609v1M263.5 647v1M314.5 691v2M232.5 659v1M142.5 603v2M1464.5 750v2M96.5 655v1M315.5 693v1M1231.5 647v1M387.5 709v1M1220.5 656v1M1103.5 736v1M980.5 655v2M1465.5 752v1M1272.5 683v2M1224.5 653v1M1025.5 663v1M48.5 699v1M83.5 666v1M960.5 700v2M17.5 748v1M332.5 722v2M1026.5 664v1M1077.5 737v1M1479.5 771v1M29.5 730v2M87.5 663v1M325.5 710v2M1040.5 683v2M285.5 647v1M617.5 738v2M146.5 595v2M852.5 740v1M1449.5 730v1M318.5 698v2M1264.5 665v2M1147.5 657v1M4.5 759v1M381.5 717v2M1489.5 784v1M1044.5 689v2M959.5 702v3M841.5 730v1M1065.5 722v1M71.5 678v1M397.5 689v2M292.5 655v1M575.5 705v1M842.5 731v1M975.5 665v2M311.5 685v2M75.5 675v1M1463.5 749v1M1107.5 733v1M1110.5 729v1M1018.5 655v1M130.5 628v2M1076.5 736v1M944.5 724v1M859.5 747v1M378.5 721v1M1258.5 654v1M64.5 683v1M1271.5 681v2M968.5 680v2M1287.5 708v1M955.5 711v1M195.5 605v1M860.5 748v1M258.5 652v1M55.5 692v1M628.5 752v1M1478.5 769v2M24.5 740v2M328.5 715v2M331.5 721v1M149.5 591v2M321.5 704v1M324.5 708v2M1130.5 692v2M172.5 593v1M221.5 643v2M1039.5 682v1M1155.5 646v1M52.5 695v1M616.5 737v1M951.5 718v1M840.5 729v1M224.5 648v2M8.5 756v1M202.5 612v1M317.5 696v2M988.5 645v1M1069.5 727v2M601.5 720v2M1123.5 707v2M620.5 742v2M12.5 753v1M206.5 617v2M1135.5 681v2M405.5 674v2M653.5 748v2M602.5 722v1M1467.5 755v1M948.5 721v1M983.5 651v1M122.5 642v1M343.5 736v1M1286.5 707v1M295.5 659v1M1444.5 726v1M627.5 751v1M373.5 727v1M39.5 711v1M608.5 728v1M296.5 660v1M1119.5 715v1M1028.5 666v2M141.5 605v2M1477.5 768v1M401.5 681v2M1146.5 658v2M669.5 734v1M609.5 729v1M335.5 727v1M1029.5 668v1M979.5 657v2M571.5 702v1M201.5 610v2M1043.5 688v1M91.5 659v1M492.5 674v1M1226.5 651v1M1046.5 692v2M572.5 703v1M313.5 689v2M342.5 735v1M896.5 754v1M253.5 657v1M1492.5 788v1M1047.5 694v1M1068.5 726v1M19.5 746v1M908.5 746v1M1466.5 753v2M954.5 712v2M900.5 751v1M89.5 661v1M920.5 738v1M912.5 743v1M125.5 638v1M47.5 700v1M82.5 667v1M924.5 735v1M958.5 705v2M1129.5 694v2M396.5 691v2M1141.5 668v2M42.5 706v2M171.5 592v1M62.5 685v1M847.5 735v1M1481.5 773v2M222.5 645v2M974.5 667v2M120.5 644v1M1109.5 730v2M848.5 736v1M1079.5 739v1M223.5 647v1M404.5 676v2M619.5 741v1M312.5 687v2M260.5 650v1M854.5 742v1M1451.5 732v1M563.5 697v1M50.5 697v1M1256.5 651v1M855.5 743v1M623.5 747v1M408.5 670v1M986.5 647v1M660.5 742v1M140.5 607v2M400.5 683v2M1270.5 679v2M1020.5 657v1M966.5 685v2M978.5 659v2M298.5 663v1M1179.5 650v1M34.5 720v2M77.5 673v1M488.5 671v1M416.5 664v1M1180.5 651v1M14.5 751v1M3.5 760v1M1480.5 772v1M1027.5 665v1M644.5 756v1M1491.5 787v1M219.5 639v2M1045.5 691v1M950.5 719v1M7.5 757v1M286.5 648v1M618.5 740v1M648.5 753v1M204.5 614v2M287.5 649v1M1049.5 697v1M338.5 731v1M368.5 732v1M1070.5 729v1M1262.5 660v2M57.5 690v1M1145.5 660v2M309.5 681v2M957.5 707v2M1071.5 730v1M135.5 617v2M603.5 723v1M843.5 732v1M664.5 739v1M395.5 693v2M38.5 712v2M257.5 653v1M1469.5 757v2M604.5 724v1M148.5 593v1M1269.5 676v3M151.5 589v1M1259.5 655v1M54.5 693v1M1078.5 738v1M1288.5 709v1M196.5 606v1M1030.5 669v2M629.5 753v1M953.5 714v2M337.5 729v2M1031.5 671v1M226.5 651v2M1149.5 654v1M380.5 719v1M383.5 715v1M611.5 731v1M218.5 637v2M985.5 648v2M139.5 609v2M596.5 715v1M203.5 613v1M375.5 725v1M555.5 692v1M1175.5 647v1M899.5 752v1M1019.5 656v1M1454.5 736v1M344.5 737v1M33.5 722v2M390.5 703v2M297.5 661v2M671.5 732v1M308.5 679v2M1176.5 648v1M68.5 680v1M1468.5 756v1M1100.5 738v1M675.5 729v1M167.5 588v1M973.5 669v2M1104.5 735v1M61.5 686v1M1152.5 650v1M386.5 710v2M255.5 655v1M1225.5 652v1M1108.5 732v1M21.5 744v1M410.5 668v1M252.5 658v1M1048.5 695v2M610.5 730v1M336.5 728v1M225.5 650v1M399.5 685v2M214.5 630v2M1115.5 722v1M1280.5 699v2M289.5 651v2M652.5 750v1M621.5 744v1M49.5 698v1M207.5 619v1M290.5 653v1M407.5 671v1M211.5 625v1M72.5 677v1M1494.5 790v1M1074.5 734v1M41.5 708v1M44.5 704v1M547.5 687v1M1228.5 649v1M857.5 745v1M76.5 674v1M155.5 586v1M1232.5 646v1M849.5 737v1M370.5 730v1M403.5 678v1M262.5 648v1M1482.5 775v1M666.5 737v1M95.5 656v1M655.5 746v1M1055.5 707v1M84.5 665v1M1483.5 776v1M1493.5 789v1M367.5 733v1M659.5 743v1M88.5 662v1M56.5 691v1M1051.5 700v1M1059.5 713v1M79.5 671v1M663.5 740v1" fill="none" stroke="#000" stroke-width="1"/>
</g>
<g shape-rendering="crispEdges">
<rect x="2" y="2" width="1508" height="1" fill="#000"/>
<rect x="2" y="551" width="1508" height="1" fill="#000"/>
<rect x="2" y="2" width="1" height="550" fill="#000"/>
<rect x="2" y="553" width="1508" height="1" fill="#000"/>
<rect x="2" y="826" width="1508" height="1" fill="#000"/>
<rect x="2" y="553" width="1" height="274" fill="#000"/>
<rect x="1509" y="2" width="1" height="825" fill="#000"/>
<rect x="1510" y="91" width="2" height="1" fill="#000"/>
<rect x="1510" y="140" width="2" height="1" fill="#000"/>
<rect x="1510" y="189" width="2" height="1" fill="#000"/>
<rect x="1510" y="238" width="2" height="1" fill="#000"/>
<rect x="1510" y="287" width="2" height="1" fill="#000"/>
<rect x="1510" y="336" width="2" height="1" fill="#000"/>
<rect x="1510" y="385" width="2" height="1" fill="#000"/>
<rect x="1510" y="434" width="2" height="1" fill="#000"/>
<rect x="1510" y="483" width="2" height="1" fill="#000"/>
<rect x="1510" y="532" width="2" height="1" fill="#000"/>
<rect x="1510" y="555" width="1" height="1" fill="#000"/>
<rect x="1510" y="733" width="1" height="1" fill="#000"/>
<rect x="1510" y="825" width="1" height="1" fill="#000"/>
<rect x="3" y="827" width="1" height="3" fill="#000"/>
<rect x="99" y="827" width="1" height="3" fill="#000"/>
<rect x="195" y="827" width="1" height="3" fill="#000"/>
<rect x="291" y="827" width="1" height="3" fill="#000"/>
<rect x="387" y="827" width="1" height="3" fill="#000"/>
<rect x="483" y="827" width="1" height="3" fill="#000"/>
<rect x="579" y="827" width="1" height="3" fill="#000"/>
<rect x="675" y="827" width="1" height="3" fill="#000"/>
<rect x="771" y="827" width="1" height="3" fill="#000"/>
<rect x="867" y="827" width="1" height="3" fill="#000"/>
<rect x="963" y="827" width="1" height="3" fill="#000"/>
<rect x="1059" y="827" width="1" height="3" fill="#000"/>
<rect x="1155" y="827" width="1" height="3" fill="#000"/>
<rect x="1251" y="827" width="1" height="3" fill="#000"/>
<rect x="1347" y="827" width="1" height="3" fill="#000"/>
<rect x="1443" y="827" width="1" height="3" fill="#000"/>
<rect x="1511" y="118" width="45" height="14" fill="#000"/>
</g>
<text x="1516" y="96" fill="#000" textLength="35" lengthAdjust="spacingAndGlyphs">28286</text>
<text x="1516" y="145" fill="#000" textLength="35" lengthAdjust="spacingAndGlyphs">27736</text>
<text x="1516" y="194" fill="#000" textLength="35" lengthAdjust="spacingAndGlyphs">27176</text>
<text x="1516" y="243" fill="#000" textLength="35" lengthAdjust="spacingAndGlyphs">26626</text>
<text x="1516" y="292" fill="#000" textLength="35" lengthAdjust="spacingAndGlyphs">26076</text>
<text x="1516" y="341" fill="#000" textLength="35" lengthAdjust="spacingAndGlyphs">25516</text>
<text x="1516" y="390" fill="#000" textLength="35" lengthAdjust="spacingAndGlyphs">24966</text>
<text x="1516" y="439" fill="#000" textLength="35" lengthAdjust="spacingAndGlyphs">24416</text>
<text x="1516" y="488" fill="#000" textLength="35" lengthAdjust="spacingAndGlyphs">23856</text>
<text x="1516" y="537" fill="#000" textLength="35" lengthAdjust="spacingAndGlyphs">23306</text>
<text x="1516" y="130" fill="#fff" textLength="35" lengthAdjust="spacingAndGlyphs">27899</text>
<g shape-rendering="crispEdges">
<rect x="1511" y="37" width="45" height="14" fill="#ff0000"/>
<rect x="1511" y="114" width="45" height="14" fill="#ff0000"/>
<rect x="1511" y="148" width="45" height="14" fill="#ff0000"/>
<rect x="1511" y="201" width="45" height="14" fill="#ff0000"/>
</g>
<text x="1516" y="49" fill="#fff" textLength="35" lengthAdjust="spacingAndGlyphs">28835</text>
<text x="1516" y="126" fill="#fff" textLength="35" lengthAdjust="spacingAndGlyphs">27966</text>
<text x="1516" y="160" fill="#fff" textLength="35" lengthAdjust="spacingAndGlyphs">27574</text>
<text x="1516" y="213" fill="#fff" textLength="35" lengthAdjust="spacingAndGlyphs">26980</text>
<text x="1513.5" y="567" fill="#000" textLength="31" lengthAdjust="spacingAndGlyphs">467.4</text>
<text x="1513.5" y="738" fill="#000" textLength="23.5" lengthAdjust="spacingAndGlyphs">0.00</text>
<text x="1513.5" y="823" fill="#000" textLength="35.5" lengthAdjust="spacingAndGlyphs">-243.9</text>
<g shape-rendering="crispEdges"><rect x="6" y="10" width="9" height="1" fill="#000"/><rect x="7" y="11" width="7" height="1" fill="#000"/><rect x="8" y="12" width="5" height="1" fill="#000"/><rect x="9" y="13" width="3" height="1" fill="#000"/><rect x="10" y="14" width="1" height="1" fill="#000"/></g>
<text x="21.5" y="17" fill="#000" textLength="40.6" lengthAdjust="spacingAndGlyphs">NKD,H4</text>
<text x="71.7" y="17" fill="#000" textLength="34" lengthAdjust="spacingAndGlyphs">27599</text>
<text x="110.7" y="17" fill="#000" textLength="34" lengthAdjust="spacingAndGlyphs">27938</text>
<text x="149.5" y="17" fill="#000" textLength="34" lengthAdjust="spacingAndGlyphs">27577</text>
<text x="188.5" y="17" fill="#000" textLength="34" lengthAdjust="spacingAndGlyphs">27899</text>
<text x="7.2" y="569" fill="#000" textLength="30.4" lengthAdjust="spacingAndGlyphs">MACD</text>
<text x="39.6" y="569" fill="#000" textLength="52.5" lengthAdjust="spacingAndGlyphs">(12,26,9)</text>
<text x="96.5" y="569" fill="#000" textLength="35" lengthAdjust="spacingAndGlyphs">-205.2</text>
<text x="136.2" y="569" fill="#000" textLength="34.5" lengthAdjust="spacingAndGlyphs">-161.1</text>
<text x="180.2" y="569" fill="#000" textLength="46.5" lengthAdjust="spacingAndGlyphs">-&gt;MA(1)</text>
<text x="231.9" y="569" fill="#000" textLength="35" lengthAdjust="spacingAndGlyphs">-205.2</text>
<text x="2.7" y="842" fill="#000" textLength="62.7" lengthAdjust="spacingAndGlyphs">2 Nov 2020</text>
<text x="98.6" y="842" fill="#000" textLength="66.4" lengthAdjust="spacingAndGlyphs">6 Nov 08:00</text>
<text x="195" y="842" fill="#000" textLength="73.3" lengthAdjust="spacingAndGlyphs">12 Nov 08:00</text>
<text x="290.9" y="842" fill="#000" textLength="73.4" lengthAdjust="spacingAndGlyphs">18 Nov 08:00</text>
<text x="386.5" y="842" fill="#000" textLength="73.7" lengthAdjust="spacingAndGlyphs">24 Nov 08:00</text>
<text x="482.6" y="842" fill="#000" textLength="73.7" lengthAdjust="spacingAndGlyphs">30 Nov 12:00</text>
<text x="578.3" y="842" fill="#000" textLength="67" lengthAdjust="spacingAndGlyphs">4 Dec 12:00</text>
<text x="674.2" y="842" fill="#000" textLength="74" lengthAdjust="spacingAndGlyphs">10 Dec 12:00</text>
<text x="770.5" y="842" fill="#000" textLength="73.7" lengthAdjust="spacingAndGlyphs">16 Dec 12:00</text>
<text x="866.2" y="842" fill="#000" textLength="74" lengthAdjust="spacingAndGlyphs">22 Dec 12:00</text>
<text x="962.6" y="842" fill="#000" textLength="73.7" lengthAdjust="spacingAndGlyphs">29 Dec 12:00</text>
<text x="1058.6" y="842" fill="#000" textLength="63.4" lengthAdjust="spacingAndGlyphs">5 Jan 12:00</text>
<text x="1154.2" y="842" fill="#000" textLength="70.8" lengthAdjust="spacingAndGlyphs">11 Jan 12:00</text>
<text x="1250.5" y="842" fill="#000" textLength="70.8" lengthAdjust="spacingAndGlyphs">15 Jan 12:00</text>
<text x="1346.2" y="842" fill="#000" textLength="71.1" lengthAdjust="spacingAndGlyphs">21 Jan 16:00</text>
<text x="1442.2" y="842" fill="#000" textLength="71.2" lengthAdjust="spacingAndGlyphs">27 Jan 16:00</text>
</svg></body></html>
